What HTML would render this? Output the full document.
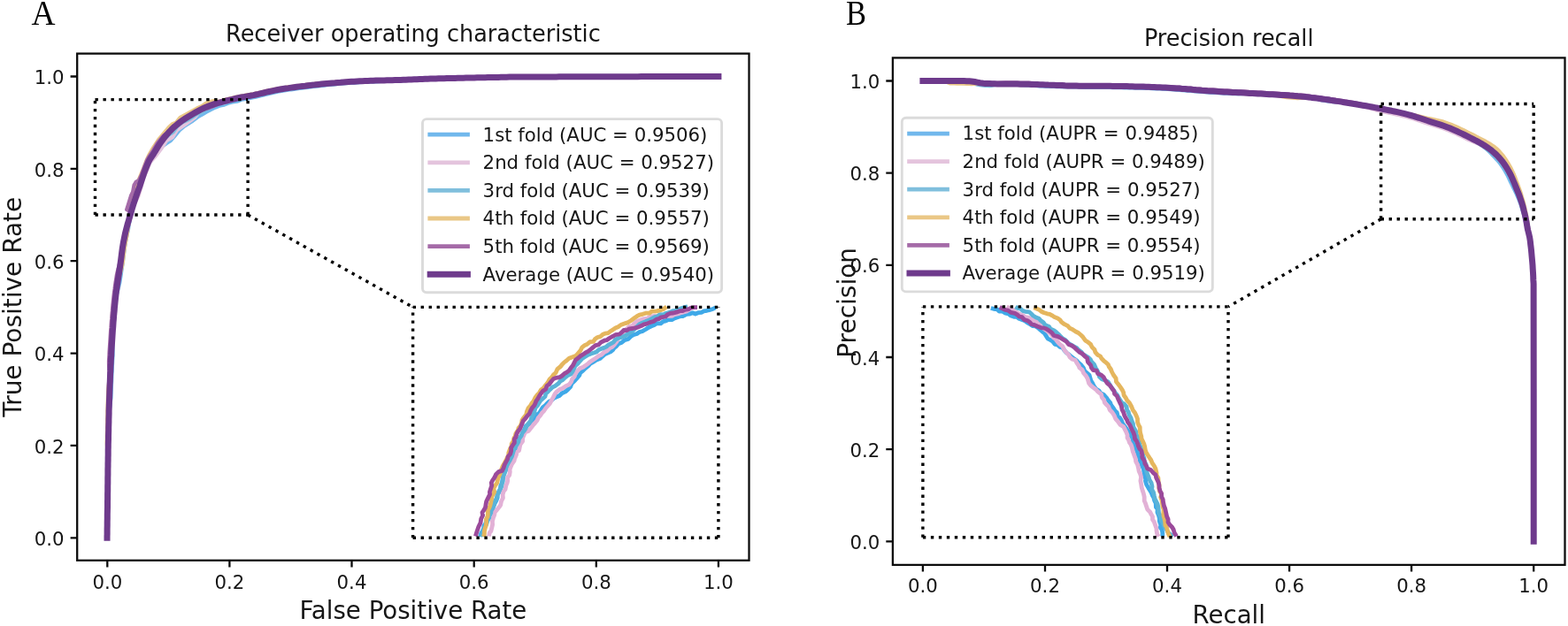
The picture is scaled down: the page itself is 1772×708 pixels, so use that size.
<!DOCTYPE html>
<html lang="en">
<head>
<meta charset="utf-8">
<title>ROC and Precision-Recall curves</title>
<style>
html,body{margin:0;padding:0;background:#fff;}
body{width:1772px;height:708px;overflow:hidden;}
svg{display:block;}
text{white-space:pre;}
</style>
</head>
<body>
<svg width="1772" height="708" viewBox="0 0 1772 708" role="img" aria-label="ROC and precision-recall curves">
<rect x="0" y="0" width="1772" height="708" fill="#fff"/>
<g fill="none" stroke-linejoin="round" stroke-linecap="butt">
<path d="M121.0,608.3 L121.0,607.8 L121.0,606.5 L121.1,604.3 L121.1,601.6 L121.1,598.3 L121.2,594.5 L121.2,590.5 L121.3,586.3 L121.3,582.0 L121.4,577.7 L121.5,573.6 L121.5,569.7 L121.5,567.1 L121.6,564.3 L121.6,561.5 L121.6,558.7 L121.7,555.7 L121.7,552.7 L121.7,549.7 L121.8,546.6 L121.8,543.5 L121.8,540.3 L121.9,537.1 L121.9,534.0 L121.9,530.8 L122.0,527.6 L122.0,524.4 L122.1,521.2 L122.1,518.0 L122.2,514.9 L122.2,511.8 L122.2,508.7 L122.3,505.7 L122.3,502.7 L122.4,499.8 L122.5,496.5 L122.5,493.3 L122.6,490.1 L122.7,486.9 L122.7,483.7 L122.8,480.6 L122.9,477.5 L122.9,474.3 L123.0,471.3 L123.2,468.2 L123.6,465.1 L123.9,462.0 L124.3,459.0 L124.7,456.0 L125.0,452.9 L125.4,449.9 L125.5,446.8 L125.6,443.8 L125.7,440.7 L125.8,437.7 L125.9,434.7 L126.1,431.6 L126.2,428.6 L126.3,425.6 L126.4,422.7 L126.6,419.7 L126.7,416.7 L126.8,413.7 L127.0,410.7 L127.1,407.8 L127.3,404.8 L127.5,401.7 L127.5,398.7 L127.4,395.7 L127.3,392.6 L127.3,389.5 L127.2,386.4 L127.1,383.3 L127.0,380.1 L127.2,376.9 L127.4,373.7 L127.7,370.5 L127.9,367.3 L128.1,364.1 L128.4,360.9 L128.6,357.7 L128.9,354.5 L129.2,351.4 L129.4,348.4 L129.7,345.3 L130.0,342.4 L130.4,339.4 L131.0,336.6 L131.8,333.1 L132.7,329.7 L133.5,326.3 L134.4,323.0 L135.2,319.7 L135.7,316.5 L136.2,313.3 L136.7,310.2 L137.1,307.2 L137.6,304.2 L138.0,301.4 L138.4,298.6 L138.9,295.1 L139.3,291.8 L139.7,288.6 L140.1,285.5 L140.5,282.5 L140.9,279.5 L141.4,276.6 L142.0,273.1 L142.7,269.7 L143.4,266.3 L144.1,263.0 L144.9,259.7 L145.3,256.3 L145.9,253.0 L146.5,249.7 L147.1,246.3 L147.7,243.0 L148.3,239.6 L149.3,236.1 L147.8,233.8 L152.1,224.3 L156.0,214.4 L158.0,205.5 L162.0,196.6 L166.9,185.7 L170.4,178.8 L174.0,176.0 L180.0,168.1 L187.9,162.2 L192.8,159.2 L197.8,153.3 L202.7,147.3 L208.7,142.4 L216.6,137.4 L224.5,131.5 L228.2,129.5 L233.2,126.5 L238.1,124.0 L243.0,121.6 L248.0,119.6 L252.9,118.6 L257.9,116.6 L262.8,115.4 L267.8,114.6 L272.8,112.7 L276.1,112.1 L279.3,111.5 L282.8,110.8 L286.4,110.1 L289.1,109.5 L292.0,108.8 L295.0,108.1 L298.0,107.3 L301.1,106.6 L304.3,105.8 L307.5,105.1 L310.7,104.4 L313.9,103.7 L316.8,103.2 L319.8,102.7 L322.9,102.2 L325.9,101.7 L329.1,101.2 L332.2,100.8 L335.3,100.3 L338.4,99.9 L341.6,99.5 L344.7,99.1 L347.8,98.7 L350.9,98.3 L354.0,97.9 L357.0,97.5 L360.1,97.2 L363.2,96.8 L366.3,96.5 L369.4,96.1 L372.4,95.8 L375.5,95.5 L378.6,95.2 L381.7,94.9 L384.8,94.6 L387.9,94.4 L390.9,94.1 L394.0,93.9 L397.1,93.7 L400.2,93.5 L403.3,93.3 L406.4,93.1 L409.4,92.9 L412.5,92.7 L415.6,92.6 L418.7,92.4 L421.8,92.3 L424.8,92.2 L427.9,92.0 L431.0,91.9 L434.1,91.8 L437.2,91.8 L440.3,91.7 L443.3,91.6 L446.4,91.4 L449.5,91.3 L452.6,91.2 L455.7,91.0 L458.7,90.9 L461.8,90.7 L464.9,90.6 L468.0,90.4 L471.1,90.2 L474.2,90.1 L477.2,89.9 L480.3,89.8 L483.4,89.7 L486.5,89.5 L489.6,89.4 L492.6,89.3 L495.7,89.2 L498.8,89.1 L501.9,88.9 L505.0,88.8 L508.1,88.7 L511.1,88.6 L514.2,88.5 L517.3,88.4 L520.4,88.3 L523.5,88.2 L526.6,88.1 L529.7,88.0 L532.9,88.0 L536.0,87.9 L539.1,87.8 L542.2,87.8 L545.2,87.7 L548.2,87.7 L551.2,87.6 L554.4,87.5 L557.4,87.5 L560.2,87.4 L563.1,87.4 L566.0,87.3 L569.0,87.2 L572.3,87.2 L575.9,87.1 L580.0,87.1 L582.0,87.1 L584.2,87.1 L586.4,87.0 L588.7,87.0 L591.1,87.0 L593.6,87.0 L596.2,87.0 L598.8,87.0 L601.5,86.9 L604.3,86.9 L607.2,86.9 L610.1,86.9 L613.1,86.9 L616.1,86.9 L619.2,86.9 L622.3,86.9 L625.4,86.9 L628.6,86.9 L631.9,86.8 L635.1,86.8 L638.4,86.8 L641.7,86.8 L645.0,86.8 L648.4,86.8 L651.7,86.8 L655.0,86.8 L658.4,86.8 L661.7,86.8 L665.1,86.8 L668.4,86.8 L671.7,86.8 L675.0,86.8 L678.2,86.7 L681.4,86.7 L684.6,86.7 L687.8,86.7 L690.9,86.7 L694.0,86.7 L697.0,86.7 L700.0,86.7 L703.2,86.7 L706.5,86.7 L709.9,86.7 L713.4,86.7 L717.1,86.7 L720.8,86.7 L724.7,86.6 L728.6,86.6 L732.5,86.6 L736.5,86.6 L740.5,86.6 L744.5,86.6 L748.6,86.6 L752.6,86.6 L756.6,86.6 L760.5,86.6 L764.4,86.6 L768.3,86.6 L772.1,86.6 L775.7,86.6 L779.3,86.5 L782.8,86.5 L786.1,86.5 L789.3,86.5 L792.3,86.5 L795.2,86.5 L797.9,86.5 L800.4,86.5 L802.6,86.5 L804.7,86.5 L806.5,86.5 L808.1,86.5 L809.4,86.5 L810.5,86.5 L811.3,86.5 L811.7,86.5 L811.9,86.5" stroke="#71b8ec" stroke-width="4.4"/>
<path d="M121.0,608.3 L121.0,607.8 L121.0,606.5 L121.1,604.3 L121.1,601.6 L121.1,598.3 L121.2,594.5 L121.2,590.5 L121.3,586.3 L121.3,582.0 L121.4,577.7 L121.5,573.6 L121.5,569.7 L121.5,567.1 L121.6,564.3 L121.6,561.5 L121.6,558.7 L121.7,555.7 L121.7,552.7 L121.7,549.7 L121.8,546.6 L121.8,543.5 L121.8,540.3 L121.9,537.1 L121.9,534.0 L121.9,530.8 L122.0,527.6 L122.0,524.4 L122.1,521.2 L122.1,518.0 L122.2,514.9 L122.2,511.8 L122.2,508.7 L122.3,505.7 L122.3,502.7 L122.4,499.8 L122.5,496.5 L122.5,493.3 L122.6,490.1 L122.7,486.9 L122.7,483.7 L122.8,480.6 L122.9,477.5 L122.9,474.3 L123.0,471.3 L123.1,468.2 L123.1,465.1 L123.2,462.0 L123.3,459.0 L123.4,456.0 L123.5,452.9 L123.6,449.9 L123.7,446.8 L123.8,443.8 L123.9,440.7 L124.0,437.7 L124.1,434.7 L124.3,431.6 L124.4,428.6 L124.5,425.6 L124.6,422.7 L124.8,419.7 L124.9,416.7 L125.0,413.7 L125.2,410.7 L125.3,407.8 L125.5,404.8 L125.7,401.7 L125.8,398.7 L126.0,395.7 L126.2,392.6 L126.4,389.5 L126.6,386.4 L126.8,383.3 L127.0,380.1 L127.2,376.9 L127.4,373.7 L127.7,370.5 L127.9,367.3 L128.1,364.1 L128.4,360.9 L128.6,357.7 L128.9,354.5 L129.2,351.4 L129.4,348.4 L129.7,345.3 L130.0,342.4 L130.3,339.4 L130.6,336.6 L131.0,333.1 L131.4,329.7 L131.9,326.3 L132.3,323.0 L132.8,319.7 L133.3,316.5 L133.8,313.3 L134.3,310.2 L134.7,307.2 L135.2,304.2 L135.6,301.4 L136.1,298.6 L136.9,295.1 L137.6,291.8 L138.2,288.6 L138.9,285.5 L139.5,282.5 L140.1,279.5 L140.6,276.6 L141.2,273.1 L141.9,269.7 L142.6,266.3 L143.3,263.0 L144.1,259.7 L144.7,256.3 L145.4,253.0 L146.1,249.7 L146.8,246.3 L147.5,243.0 L148.3,239.6 L149.3,236.1 L150.3,232.7 L152.6,229.2 L156.5,221.3 L159.2,212.4 L162.0,201.5 L166.9,190.6 L169.4,183.7 L174.8,177.8 L175.5,177.0 L182.9,167.1 L187.9,159.2 L194.8,155.3 L199.8,147.3 L206.7,142.4 L214.6,137.0 L220.5,132.5 L227.5,123.6 L233.2,119.6 L237.1,118.1 L242.1,116.6 L247.3,116.6 L252.9,116.5 L255.9,114.8 L259.3,113.9 L262.7,113.0 L266.1,112.2 L269.5,111.4 L272.8,110.8 L276.1,110.2 L279.3,109.6 L282.8,109.0 L286.4,108.3 L289.1,107.7 L292.0,107.1 L295.0,106.3 L298.0,105.6 L301.1,104.9 L304.3,104.1 L307.5,103.4 L310.7,102.7 L313.9,102.1 L316.8,101.6 L319.8,101.1 L322.9,100.6 L325.9,100.2 L329.1,99.7 L332.2,99.3 L335.3,98.9 L338.4,98.5 L341.6,98.1 L344.7,97.7 L347.8,97.3 L350.9,96.9 L354.0,96.6 L357.0,96.2 L360.1,95.9 L363.2,95.5 L366.3,95.2 L369.4,94.9 L372.4,94.6 L375.5,94.3 L378.6,94.1 L381.7,93.8 L384.8,93.6 L387.9,93.3 L390.9,93.1 L394.0,92.9 L397.1,92.7 L400.2,92.5 L403.3,92.3 L406.4,92.2 L409.4,92.0 L412.5,91.8 L415.6,91.7 L418.7,91.6 L421.8,91.5 L424.8,91.4 L427.9,91.3 L431.0,91.2 L434.1,91.1 L437.2,91.0 L440.3,91.0 L443.3,90.9 L446.4,90.8 L449.5,90.7 L452.6,90.6 L455.7,90.5 L458.7,90.3 L461.8,90.2 L464.9,90.1 L468.0,89.9 L471.1,89.8 L474.2,89.7 L477.2,89.5 L480.3,89.4 L483.4,89.3 L486.5,89.2 L489.6,89.1 L492.6,89.0 L495.7,88.9 L498.8,88.8 L501.9,88.7 L505.0,88.6 L508.1,88.5 L511.1,88.5 L514.2,88.4 L517.3,88.3 L520.4,88.2 L523.5,88.2 L526.6,88.1 L529.7,88.0 L532.9,88.0 L536.0,87.9 L539.1,87.8 L542.2,87.8 L545.2,87.7 L548.2,87.7 L551.2,87.6 L554.4,87.5 L557.4,87.5 L560.2,87.4 L563.1,87.4 L566.0,87.3 L569.0,87.2 L572.3,87.2 L575.9,87.1 L580.0,87.1 L582.0,87.1 L584.2,87.1 L586.4,87.0 L588.7,87.0 L591.1,87.0 L593.6,87.0 L596.2,87.0 L598.8,87.0 L601.5,86.9 L604.3,86.9 L607.2,86.9 L610.1,86.9 L613.1,86.9 L616.1,86.9 L619.2,86.9 L622.3,86.9 L625.4,86.9 L628.6,86.9 L631.9,86.8 L635.1,86.8 L638.4,86.8 L641.7,86.8 L645.0,86.8 L648.4,86.8 L651.7,86.8 L655.0,86.8 L658.4,86.8 L661.7,86.8 L665.1,86.8 L668.4,86.8 L671.7,86.8 L675.0,86.8 L678.2,86.7 L681.4,86.7 L684.6,86.7 L687.8,86.7 L690.9,86.7 L694.0,86.7 L697.0,86.7 L700.0,86.7 L703.2,86.7 L706.5,86.7 L709.9,86.7 L713.4,86.7 L717.1,86.7 L720.8,86.7 L724.7,86.6 L728.6,86.6 L732.5,86.6 L736.5,86.6 L740.5,86.6 L744.5,86.6 L748.6,86.6 L752.6,86.6 L756.6,86.6 L760.5,86.6 L764.4,86.6 L768.3,86.6 L772.1,86.6 L775.7,86.6 L779.3,86.5 L782.8,86.5 L786.1,86.5 L789.3,86.5 L792.3,86.5 L795.2,86.5 L797.9,86.5 L800.4,86.5 L802.6,86.5 L804.7,86.5 L806.5,86.5 L808.1,86.5 L809.4,86.5 L810.5,86.5 L811.3,86.5 L811.7,86.5 L811.9,86.5" stroke="#e4c4dd" stroke-width="4.4"/>
<path d="M121.0,608.3 L121.0,607.8 L121.0,606.5 L121.1,604.3 L121.1,601.6 L121.1,598.3 L121.2,594.5 L121.2,590.5 L121.3,586.3 L121.3,582.0 L121.4,577.7 L121.5,573.6 L121.5,569.7 L121.5,567.1 L121.6,564.3 L121.6,561.5 L121.6,558.7 L121.7,555.7 L121.7,552.7 L121.7,549.7 L121.8,546.6 L121.8,543.5 L121.8,540.3 L121.9,537.1 L121.9,534.0 L121.9,530.8 L122.0,527.6 L122.0,524.4 L122.1,521.2 L122.1,518.0 L122.2,514.9 L122.2,511.8 L122.2,508.7 L122.3,505.7 L122.3,502.7 L122.4,499.8 L122.5,496.5 L122.5,493.3 L122.6,490.1 L122.7,486.9 L122.7,483.7 L122.8,480.6 L122.9,477.5 L122.9,474.3 L123.0,471.3 L123.1,468.2 L123.1,465.1 L123.2,462.0 L123.3,459.0 L123.4,456.0 L123.5,452.9 L123.6,449.9 L123.7,446.8 L123.8,443.8 L123.9,440.7 L124.0,437.7 L124.1,434.7 L124.3,431.6 L124.4,428.6 L124.5,425.6 L124.6,422.7 L124.8,419.7 L124.9,416.7 L125.0,413.7 L125.2,410.7 L125.3,407.8 L125.5,404.8 L125.7,401.7 L125.8,398.7 L126.0,395.7 L126.2,392.6 L126.4,389.5 L126.6,386.4 L126.8,383.3 L127.0,380.1 L127.2,376.9 L127.4,373.7 L127.7,370.5 L127.9,367.3 L128.1,364.1 L128.4,360.9 L128.6,357.7 L128.9,354.5 L129.2,351.4 L129.4,348.4 L129.7,345.3 L130.0,342.4 L130.3,339.4 L130.6,336.6 L131.0,333.1 L131.5,329.7 L132.2,326.3 L133.0,323.0 L133.7,319.7 L134.5,316.5 L135.3,313.3 L136.0,310.2 L136.5,307.2 L137.0,304.2 L137.4,301.4 L137.8,298.6 L138.3,295.1 L138.7,291.8 L139.1,288.6 L139.5,285.5 L139.9,282.5 L140.3,279.5 L140.8,276.6 L141.4,273.1 L142.1,269.7 L142.4,266.3 L142.9,263.0 L143.4,259.7 L143.9,256.3 L144.6,253.0 L145.3,249.7 L146.3,246.3 L147.3,243.0 L148.3,239.6 L149.3,236.1 L148.8,232.3 L151.8,224.8 L154.3,217.8 L156.5,213.3 L158.3,205.8 L161.5,197.8 L165.3,189.3 L168.3,182.8 L172.1,177.0 L177.0,167.1 L182.9,159.2 L189.9,153.3 L195.8,149.3 L199.8,143.4 L205.7,138.4 L214.6,134.5 L222.5,129.0 L228.2,126.5 L233.2,122.5 L238.1,119.6 L243.0,117.1 L249.3,115.0 L252.5,116.5 L255.9,115.5 L259.3,114.6 L262.7,113.8 L266.1,113.0 L269.5,112.2 L272.8,111.5 L276.1,110.9 L279.3,110.3 L282.8,109.7 L286.4,109.0 L289.1,108.4 L292.0,107.7 L295.0,107.0 L298.0,106.3 L301.1,105.5 L304.3,104.8 L307.5,104.0 L310.7,103.3 L313.9,102.7 L316.8,102.2 L319.8,101.7 L322.9,101.2 L325.9,100.7 L329.1,100.3 L332.2,99.8 L335.3,99.4 L338.4,99.0 L341.6,98.6 L344.7,98.2 L347.8,97.8 L350.9,97.4 L354.0,97.0 L357.0,96.7 L360.1,96.3 L363.2,96.0 L366.3,95.7 L369.4,95.3 L372.4,95.0 L375.5,94.7 L378.6,94.5 L381.7,94.2 L384.8,93.9 L387.9,93.7 L390.9,93.5 L394.0,93.2 L397.1,93.0 L400.2,92.8 L403.3,92.6 L406.4,92.5 L409.4,92.3 L412.5,92.1 L415.6,92.0 L418.7,91.8 L421.8,91.7 L424.8,91.6 L427.9,91.5 L431.0,91.4 L434.1,91.3 L437.2,91.3 L440.3,91.2 L443.3,91.1 L446.4,91.0 L449.5,90.9 L452.6,90.7 L455.7,90.6 L458.7,90.5 L461.8,90.3 L464.9,90.2 L468.0,90.0 L471.1,89.9 L474.2,89.8 L477.2,89.6 L480.3,89.5 L483.4,89.4 L486.5,89.2 L489.6,89.1 L492.6,89.0 L495.7,88.9 L498.8,88.8 L501.9,88.7 L505.0,88.6 L508.1,88.5 L511.1,88.4 L514.2,88.4 L517.3,88.3 L520.4,88.2 L523.5,88.2 L526.6,88.1 L529.7,88.0 L532.9,88.0 L536.0,87.9 L539.1,87.8 L542.2,87.8 L545.2,87.7 L548.2,87.7 L551.2,87.6 L554.4,87.5 L557.4,87.5 L560.2,87.4 L563.1,87.4 L566.0,87.3 L569.0,87.2 L572.3,87.2 L575.9,87.1 L580.0,87.1 L582.0,87.1 L584.2,87.1 L586.4,87.0 L588.7,87.0 L591.1,87.0 L593.6,87.0 L596.2,87.0 L598.8,87.0 L601.5,86.9 L604.3,86.9 L607.2,86.9 L610.1,86.9 L613.1,86.9 L616.1,86.9 L619.2,86.9 L622.3,86.9 L625.4,86.9 L628.6,86.9 L631.9,86.8 L635.1,86.8 L638.4,86.8 L641.7,86.8 L645.0,86.8 L648.4,86.8 L651.7,86.8 L655.0,86.8 L658.4,86.8 L661.7,86.8 L665.1,86.8 L668.4,86.8 L671.7,86.8 L675.0,86.8 L678.2,86.7 L681.4,86.7 L684.6,86.7 L687.8,86.7 L690.9,86.7 L694.0,86.7 L697.0,86.7 L700.0,86.7 L703.2,86.7 L706.5,86.7 L709.9,86.7 L713.4,86.7 L717.1,86.7 L720.8,86.7 L724.7,86.6 L728.6,86.6 L732.5,86.6 L736.5,86.6 L740.5,86.6 L744.5,86.6 L748.6,86.6 L752.6,86.6 L756.6,86.6 L760.5,86.6 L764.4,86.6 L768.3,86.6 L772.1,86.6 L775.7,86.6 L779.3,86.5 L782.8,86.5 L786.1,86.5 L789.3,86.5 L792.3,86.5 L795.2,86.5 L797.9,86.5 L800.4,86.5 L802.6,86.5 L804.7,86.5 L806.5,86.5 L808.1,86.5 L809.4,86.5 L810.5,86.5 L811.3,86.5 L811.7,86.5 L811.9,86.5" stroke="#80bfdd" stroke-width="4.4"/>
<path d="M121.0,608.3 L121.0,607.8 L121.0,606.5 L121.1,604.3 L121.1,601.6 L121.1,598.3 L121.2,594.5 L121.2,590.5 L121.3,586.3 L121.3,582.0 L121.4,577.7 L121.5,573.6 L121.5,569.7 L121.5,567.1 L121.6,564.3 L121.6,561.5 L121.6,558.7 L121.7,555.7 L121.7,552.7 L121.7,549.7 L121.8,546.6 L121.8,543.5 L121.8,540.3 L121.9,537.1 L121.9,534.0 L121.9,530.8 L122.0,527.6 L122.0,524.4 L122.1,521.2 L121.9,518.0 L121.7,514.9 L121.5,511.8 L121.3,508.7 L121.1,505.7 L121.0,502.7 L120.8,499.8 L120.9,496.5 L120.9,493.3 L121.0,490.1 L121.1,486.9 L121.1,483.7 L121.2,480.6 L121.3,477.5 L121.3,474.3 L121.4,471.3 L121.5,468.2 L121.5,465.1 L121.6,462.0 L121.7,459.0 L121.8,456.0 L121.9,452.9 L122.0,449.9 L122.1,446.8 L122.2,443.8 L122.3,440.7 L122.6,437.7 L123.0,434.7 L123.3,431.6 L123.7,428.6 L124.0,425.6 L124.4,422.7 L124.8,419.7 L124.9,416.7 L125.0,413.7 L125.2,410.7 L125.3,407.8 L125.5,404.8 L125.7,401.7 L125.8,398.7 L126.0,395.7 L126.2,392.6 L126.4,389.5 L126.6,386.4 L126.8,383.3 L127.0,380.1 L127.2,376.9 L127.4,373.7 L127.7,370.5 L127.9,367.3 L128.1,364.1 L128.4,360.9 L128.6,357.7 L128.9,354.5 L129.2,351.4 L129.4,348.4 L129.7,345.3 L130.0,342.4 L130.3,339.4 L130.6,336.6 L131.0,333.1 L131.4,329.7 L131.9,326.3 L132.3,323.0 L132.9,319.7 L133.7,316.5 L134.6,313.3 L135.4,310.2 L136.3,307.2 L137.1,304.2 L137.8,301.4 L138.4,298.6 L138.9,295.1 L139.3,291.8 L139.7,288.6 L140.1,285.5 L140.5,282.5 L140.9,279.5 L141.4,276.6 L142.0,273.1 L142.7,269.7 L143.4,266.3 L143.9,263.0 L144.3,259.7 L144.7,256.3 L145.3,253.0 L145.9,249.7 L146.5,246.3 L147.3,243.0 L148.3,239.6 L149.3,236.1 L150.3,232.7 L151.4,229.2 L149.6,225.3 L153.1,212.4 L155.5,206.5 L158.3,199.8 L162.3,190.3 L166.3,179.8 L169.1,174.0 L173.1,167.1 L179.0,158.2 L185.9,149.8 L190.9,143.9 L194.8,140.4 L198.8,138.9 L203.7,133.0 L212.6,128.1 L222.5,122.6 L228.2,120.1 L233.2,116.6 L238.1,114.9 L243.0,113.9 L245.7,115.1 L249.1,114.3 L252.5,113.4 L255.9,112.5 L259.3,111.6 L262.7,110.8 L266.1,110.0 L269.5,109.3 L272.8,108.6 L276.1,108.1 L279.3,107.5 L282.8,106.9 L286.4,106.3 L289.1,105.7 L292.0,105.1 L295.0,104.4 L298.0,103.7 L301.1,103.0 L304.3,102.3 L307.5,101.6 L310.7,100.9 L313.9,100.3 L316.8,99.8 L319.8,99.4 L322.9,98.9 L325.9,98.5 L329.1,98.1 L332.2,97.7 L335.3,97.3 L338.4,96.9 L341.6,96.6 L344.7,96.2 L347.8,95.8 L350.9,95.5 L354.0,95.2 L357.0,94.8 L360.1,94.5 L363.2,94.2 L366.3,93.9 L369.4,93.7 L372.4,93.4 L375.5,93.1 L378.6,92.9 L381.7,92.7 L384.8,92.4 L387.9,92.2 L390.9,92.0 L394.0,91.9 L397.1,91.7 L400.2,91.5 L403.3,91.4 L406.4,91.2 L409.4,91.1 L412.5,91.0 L415.6,90.9 L418.7,90.8 L421.8,90.7 L424.8,90.6 L427.9,90.5 L431.0,90.5 L434.1,90.4 L437.2,90.4 L440.3,90.4 L443.3,90.3 L446.4,90.2 L449.5,90.2 L452.6,90.1 L455.7,90.0 L458.7,89.9 L461.8,89.8 L464.9,89.7 L468.0,89.6 L471.1,89.5 L474.2,89.4 L477.2,89.3 L480.3,89.2 L483.4,89.1 L486.5,89.0 L489.6,88.9 L492.6,88.9 L495.7,88.8 L498.8,88.7 L501.9,88.7 L505.0,88.6 L508.1,88.5 L511.1,88.4 L514.2,88.4 L517.3,88.3 L520.4,88.2 L523.5,88.2 L526.6,88.1 L529.7,88.0 L532.9,88.0 L536.0,87.9 L539.1,87.8 L542.2,87.8 L545.2,87.7 L548.2,87.7 L551.2,87.6 L554.4,87.5 L557.4,87.5 L560.2,87.4 L563.1,87.4 L566.0,87.3 L569.0,87.2 L572.3,87.2 L575.9,87.1 L580.0,87.1 L582.0,87.1 L584.2,87.1 L586.4,87.0 L588.7,87.0 L591.1,87.0 L593.6,87.0 L596.2,87.0 L598.8,87.0 L601.5,86.9 L604.3,86.9 L607.2,86.9 L610.1,86.9 L613.1,86.9 L616.1,86.9 L619.2,86.9 L622.3,86.9 L625.4,86.9 L628.6,86.9 L631.9,86.8 L635.1,86.8 L638.4,86.8 L641.7,86.8 L645.0,86.8 L648.4,86.8 L651.7,86.8 L655.0,86.8 L658.4,86.8 L661.7,86.8 L665.1,86.8 L668.4,86.8 L671.7,86.8 L675.0,86.8 L678.2,86.7 L681.4,86.7 L684.6,86.7 L687.8,86.7 L690.9,86.7 L694.0,86.7 L697.0,86.7 L700.0,86.7 L703.2,86.7 L706.5,86.7 L709.9,86.7 L713.4,86.7 L717.1,86.7 L720.8,86.7 L724.7,86.6 L728.6,86.6 L732.5,86.6 L736.5,86.6 L740.5,86.6 L744.5,86.6 L748.6,86.6 L752.6,86.6 L756.6,86.6 L760.5,86.6 L764.4,86.6 L768.3,86.6 L772.1,86.6 L775.7,86.6 L779.3,86.5 L782.8,86.5 L786.1,86.5 L789.3,86.5 L792.3,86.5 L795.2,86.5 L797.9,86.5 L800.4,86.5 L802.6,86.5 L804.7,86.5 L806.5,86.5 L808.1,86.5 L809.4,86.5 L810.5,86.5 L811.3,86.5 L811.7,86.5 L811.9,86.5" stroke="#eac786" stroke-width="4.4"/>
<path d="M121.0,608.3 L121.0,607.8 L121.0,606.5 L121.1,604.3 L121.1,601.6 L121.1,598.3 L121.2,594.5 L121.2,590.5 L121.3,586.3 L121.3,582.0 L121.4,577.7 L121.5,573.6 L121.5,569.7 L121.5,567.1 L121.6,564.3 L121.6,561.5 L121.6,558.7 L121.7,555.7 L121.7,552.7 L121.7,549.7 L121.8,546.6 L121.8,543.5 L121.8,540.3 L121.9,537.1 L121.9,534.0 L121.9,530.8 L122.0,527.6 L122.0,524.4 L122.1,521.2 L122.1,518.0 L122.2,514.9 L122.2,511.8 L122.2,508.7 L122.3,505.7 L122.3,502.7 L122.4,499.8 L122.5,496.5 L122.5,493.3 L122.6,490.1 L122.7,486.9 L122.7,483.7 L122.8,480.6 L122.9,477.5 L122.9,474.3 L123.0,471.3 L123.1,468.2 L123.1,465.1 L123.2,462.0 L123.3,459.0 L123.4,456.0 L123.5,452.9 L123.6,449.9 L123.7,446.8 L123.8,443.8 L123.9,440.7 L124.0,437.7 L124.1,434.7 L124.3,431.6 L124.2,428.6 L124.0,425.6 L123.8,422.7 L123.6,419.7 L123.4,416.7 L123.2,413.7 L123.1,410.7 L123.1,407.8 L123.3,404.8 L123.5,401.7 L123.6,398.7 L123.8,395.7 L124.0,392.6 L124.2,389.5 L124.4,386.4 L124.6,383.3 L124.8,380.1 L125.0,376.9 L125.2,373.7 L125.5,370.5 L125.7,367.3 L125.9,364.1 L126.2,360.9 L126.4,357.7 L126.7,354.5 L127.0,351.4 L127.2,348.4 L127.5,345.3 L127.8,342.4 L128.1,339.4 L128.4,336.6 L128.8,333.1 L129.2,329.7 L129.7,326.3 L130.1,323.0 L130.6,319.7 L131.1,316.5 L131.6,313.3 L132.1,310.2 L132.8,307.2 L133.6,304.2 L134.4,301.4 L135.1,298.6 L135.9,295.1 L136.7,291.8 L137.3,288.6 L137.7,285.5 L138.1,282.5 L138.5,279.5 L139.0,276.6 L139.6,273.1 L140.3,269.7 L141.0,266.3 L141.7,263.0 L142.5,259.7 L143.4,256.3 L144.3,253.0 L145.3,249.7 L146.3,246.3 L147.3,243.0 L148.3,239.6 L143.2,237.1 L145.1,231.2 L148.1,221.3 L150.1,217.3 L151.6,209.4 L153.6,206.0 L157.0,204.0 L160.0,197.6 L162.9,189.6 L165.9,181.7 L168.1,177.8 L173.1,170.1 L178.0,161.7 L184.9,153.3 L194.8,147.3 L199.8,140.4 L208.7,134.0 L217.6,129.0 L223.3,126.8 L225.7,124.5 L230.7,123.5 L235.6,122.1 L240.6,120.1 L245.5,118.1 L250.5,115.6 L255.4,114.4 L260.3,112.9 L262.7,111.9 L266.1,111.1 L269.5,110.3 L272.8,109.7 L276.1,109.1 L279.3,108.5 L282.8,107.9 L286.4,107.2 L289.1,106.7 L292.0,106.0 L295.0,105.3 L298.0,104.6 L301.1,103.9 L304.3,103.2 L307.5,102.5 L310.7,101.8 L313.9,101.2 L316.8,100.7 L319.8,100.2 L322.9,99.7 L325.9,99.3 L329.1,98.9 L332.2,98.4 L335.3,98.0 L338.4,97.7 L341.6,97.3 L344.7,96.9 L347.8,96.5 L350.9,96.2 L354.0,95.8 L357.0,95.5 L360.1,95.2 L363.2,94.8 L366.3,94.5 L369.4,94.2 L372.4,94.0 L375.5,93.7 L378.6,93.4 L381.7,93.2 L384.8,93.0 L387.9,92.7 L390.9,92.5 L394.0,92.3 L397.1,92.1 L400.2,92.0 L403.3,91.8 L406.4,91.7 L409.4,91.5 L412.5,91.4 L415.6,91.2 L418.7,91.1 L421.8,91.0 L424.8,90.9 L427.9,90.9 L431.0,90.8 L434.1,90.7 L437.2,90.7 L440.3,90.6 L443.3,90.6 L446.4,90.5 L449.5,90.4 L452.6,90.3 L455.7,90.2 L458.7,90.1 L461.8,89.9 L464.9,89.8 L468.0,89.7 L471.1,89.6 L474.2,89.5 L477.2,89.4 L480.3,89.2 L483.4,89.1 L486.5,89.1 L489.6,89.0 L492.6,88.9 L495.7,88.8 L498.8,88.7 L501.9,88.6 L505.0,88.6 L508.1,88.5 L511.1,88.4 L514.2,88.4 L517.3,88.3 L520.4,88.2 L523.5,88.2 L526.6,88.1 L529.7,88.0 L532.9,88.0 L536.0,87.9 L539.1,87.8 L542.2,87.8 L545.2,87.7 L548.2,87.7 L551.2,87.6 L554.4,87.5 L557.4,87.5 L560.2,87.4 L563.1,87.4 L566.0,87.3 L569.0,87.2 L572.3,87.2 L575.9,87.1 L580.0,87.1 L582.0,87.1 L584.2,87.1 L586.4,87.0 L588.7,87.0 L591.1,87.0 L593.6,87.0 L596.2,87.0 L598.8,87.0 L601.5,86.9 L604.3,86.9 L607.2,86.9 L610.1,86.9 L613.1,86.9 L616.1,86.9 L619.2,86.9 L622.3,86.9 L625.4,86.9 L628.6,86.9 L631.9,86.8 L635.1,86.8 L638.4,86.8 L641.7,86.8 L645.0,86.8 L648.4,86.8 L651.7,86.8 L655.0,86.8 L658.4,86.8 L661.7,86.8 L665.1,86.8 L668.4,86.8 L671.7,86.8 L675.0,86.8 L678.2,86.7 L681.4,86.7 L684.6,86.7 L687.8,86.7 L690.9,86.7 L694.0,86.7 L697.0,86.7 L700.0,86.7 L703.2,86.7 L706.5,86.7 L709.9,86.7 L713.4,86.7 L717.1,86.7 L720.8,86.7 L724.7,86.6 L728.6,86.6 L732.5,86.6 L736.5,86.6 L740.5,86.6 L744.5,86.6 L748.6,86.6 L752.6,86.6 L756.6,86.6 L760.5,86.6 L764.4,86.6 L768.3,86.6 L772.1,86.6 L775.7,86.6 L779.3,86.5 L782.8,86.5 L786.1,86.5 L789.3,86.5 L792.3,86.5 L795.2,86.5 L797.9,86.5 L800.4,86.5 L802.6,86.5 L804.7,86.5 L806.5,86.5 L808.1,86.5 L809.4,86.5 L810.5,86.5 L811.3,86.5 L811.7,86.5 L811.9,86.5" stroke="#a56ba8" stroke-width="4.4"/>
<path d="M121.0,608.3 L121.0,607.8 L121.0,606.5 L121.1,604.3 L121.1,601.6 L121.1,598.3 L121.2,594.5 L121.2,590.5 L121.3,586.3 L121.3,582.0 L121.4,577.7 L121.5,573.6 L121.5,569.7 L121.5,567.1 L121.6,564.3 L121.6,561.5 L121.6,558.7 L121.7,555.7 L121.7,552.7 L121.7,549.7 L121.8,546.6 L121.8,543.5 L121.8,540.3 L121.9,537.1 L121.9,534.0 L121.9,530.8 L122.0,527.6 L122.0,524.4 L122.1,521.2 L122.1,518.0 L122.2,514.9 L122.2,511.8 L122.2,508.7 L122.3,505.7 L122.3,502.7 L122.4,499.8 L122.5,496.5 L122.5,493.3 L122.6,490.1 L122.7,486.9 L122.7,483.7 L122.8,480.6 L122.9,477.5 L122.9,474.3 L123.0,471.3 L123.1,468.2 L123.1,465.1 L123.2,462.0 L123.3,459.0 L123.4,456.0 L123.5,452.9 L123.6,449.9 L123.7,446.8 L123.8,443.8 L123.9,440.7 L124.0,437.7 L124.1,434.7 L124.3,431.6 L124.4,428.6 L124.5,425.6 L124.6,422.7 L124.8,419.7 L124.9,416.7 L125.0,413.7 L125.2,410.7 L125.3,407.8 L125.5,404.8 L125.7,401.7 L125.8,398.7 L126.0,395.7 L126.2,392.6 L126.4,389.5 L126.6,386.4 L126.8,383.3 L127.0,380.1 L127.2,376.9 L127.4,373.7 L127.7,370.5 L127.9,367.3 L128.1,364.1 L128.4,360.9 L128.6,357.7 L128.9,354.5 L129.2,351.4 L129.4,348.4 L129.7,345.3 L130.0,342.4 L130.3,339.4 L130.6,336.6 L131.0,333.1 L131.4,329.7 L131.9,326.3 L132.3,323.0 L132.8,319.7 L133.3,316.5 L133.8,313.3 L134.3,310.2 L134.7,307.2 L135.2,304.2 L135.6,301.4 L136.0,298.6 L136.5,295.1 L136.9,291.8 L137.3,288.6 L137.7,285.5 L138.1,282.5 L138.5,279.5 L139.0,276.6 L139.6,273.1 L140.3,269.7 L141.0,266.3 L141.7,263.0 L142.5,259.7 L143.4,256.3 L144.3,253.0 L145.3,249.7 L146.3,246.3 L147.3,243.0 L148.3,239.6 L149.3,236.1 L150.3,232.7 L151.4,229.2 L152.5,225.8 L153.5,222.9 L154.5,220.1 L155.5,217.2 L156.5,214.4 L157.5,211.6 L158.5,208.8 L159.5,205.7 L160.5,202.6 L161.5,199.6 L162.5,196.6 L163.6,193.6 L165.0,190.0 L166.5,186.3 L168.0,182.9 L169.5,180.0 L172.9,175.1 L174.3,172.8 L176.0,170.1 L177.7,167.2 L179.5,164.3 L181.4,161.5 L183.3,158.9 L185.3,156.2 L187.3,153.6 L189.4,151.2 L191.5,148.8 L193.9,146.3 L196.3,144.0 L198.9,141.8 L201.7,139.5 L204.2,137.6 L206.9,135.7 L209.8,133.8 L212.7,132.0 L215.7,130.2 L218.6,128.5 L221.4,126.9 L224.2,125.4 L227.0,123.9 L229.9,122.5 L232.7,121.2 L235.6,120.0 L238.9,118.8 L242.3,117.7 L245.7,116.7 L249.1,115.8 L252.5,114.9 L255.9,114.0 L259.3,113.1 L262.7,112.3 L266.1,111.5 L269.5,110.7 L272.8,110.0 L276.1,109.5 L279.3,108.9 L282.8,108.3 L286.4,107.6 L289.1,107.0 L292.0,106.4 L295.0,105.7 L298.0,105.0 L301.1,104.2 L304.3,103.5 L307.5,102.8 L310.7,102.1 L313.9,101.5 L316.8,101.0 L319.8,100.5 L322.9,100.0 L325.9,99.6 L329.1,99.1 L332.2,98.7 L335.3,98.3 L338.4,97.9 L341.6,97.5 L344.7,97.2 L347.8,96.8 L350.9,96.4 L354.0,96.1 L357.0,95.7 L360.1,95.4 L363.2,95.1 L366.3,94.8 L369.4,94.5 L372.4,94.2 L375.5,93.9 L378.6,93.7 L381.7,93.4 L384.8,93.2 L387.9,92.9 L390.9,92.7 L394.0,92.5 L397.1,92.3 L400.2,92.2 L403.3,92.0 L406.4,91.8 L409.4,91.7 L412.5,91.5 L415.6,91.4 L418.7,91.3 L421.8,91.2 L424.8,91.1 L427.9,91.0 L431.0,90.9 L434.1,90.9 L437.2,90.8 L440.3,90.7 L443.3,90.7 L446.4,90.6 L449.5,90.5 L452.6,90.4 L455.7,90.3 L458.7,90.2 L461.8,90.0 L464.9,89.9 L468.0,89.8 L471.1,89.7 L474.2,89.5 L477.2,89.4 L480.3,89.3 L483.4,89.2 L486.5,89.1 L489.6,89.0 L492.6,88.9 L495.7,88.8 L498.8,88.8 L501.9,88.7 L505.0,88.6 L508.1,88.5 L511.1,88.4 L514.2,88.4 L517.3,88.3 L520.4,88.2 L523.5,88.2 L526.6,88.1 L529.7,88.0 L532.9,88.0 L536.0,87.9 L539.1,87.8 L542.2,87.8 L545.2,87.7 L548.2,87.7 L551.2,87.6 L554.4,87.5 L557.4,87.5 L560.2,87.4 L563.1,87.4 L566.0,87.3 L569.0,87.2 L572.3,87.2 L575.9,87.1 L580.0,87.1 L582.0,87.1 L584.2,87.1 L586.4,87.0 L588.7,87.0 L591.1,87.0 L593.6,87.0 L596.2,87.0 L598.8,87.0 L601.5,86.9 L604.3,86.9 L607.2,86.9 L610.1,86.9 L613.1,86.9 L616.1,86.9 L619.2,86.9 L622.3,86.9 L625.4,86.9 L628.6,86.9 L631.9,86.8 L635.1,86.8 L638.4,86.8 L641.7,86.8 L645.0,86.8 L648.4,86.8 L651.7,86.8 L655.0,86.8 L658.4,86.8 L661.7,86.8 L665.1,86.8 L668.4,86.8 L671.7,86.8 L675.0,86.8 L678.2,86.7 L681.4,86.7 L684.6,86.7 L687.8,86.7 L690.9,86.7 L694.0,86.7 L697.0,86.7 L700.0,86.7 L703.2,86.7 L706.5,86.7 L709.9,86.7 L713.4,86.7 L717.1,86.7 L720.8,86.7 L724.7,86.6 L728.6,86.6 L732.5,86.6 L736.5,86.6 L740.5,86.6 L744.5,86.6 L748.6,86.6 L752.6,86.6 L756.6,86.6 L760.5,86.6 L764.4,86.6 L768.3,86.6 L772.1,86.6 L775.7,86.6 L779.3,86.5 L782.8,86.5 L786.1,86.5 L789.3,86.5 L792.3,86.5 L795.2,86.5 L797.9,86.5 L800.4,86.5 L802.6,86.5 L804.7,86.5 L806.5,86.5 L808.1,86.5 L809.4,86.5 L810.5,86.5 L811.3,86.5 L811.7,86.5 L811.9,86.5" stroke="#6e3a8c" stroke-width="7" stroke-linecap="square"/>
<path d="M1042.9,91.5 L1043.3,91.5 L1044.4,91.5 L1046.1,91.5 L1048.4,91.4 L1051.2,91.4 L1054.4,91.4 L1058.0,91.4 L1061.8,91.4 L1065.8,91.4 L1069.9,91.7 L1074.1,92.5 L1078.2,93.3 L1082.1,93.7 L1085.9,93.7 L1089.5,93.8 L1092.6,93.9 L1095.4,94.0 L1097.6,94.2 L1101.3,94.7 L1104.2,95.2 L1107.2,95.9 L1111.2,95.8 L1113.4,95.6 L1115.8,95.3 L1118.3,94.9 L1121.0,94.7 L1123.9,94.8 L1126.9,94.9 L1129.9,94.9 L1133.1,95.0 L1136.3,95.0 L1139.6,95.1 L1143.0,95.1 L1146.3,95.1 L1149.7,95.1 L1153.0,95.4 L1156.2,95.6 L1159.4,95.9 L1162.6,96.1 L1165.6,96.4 L1168.8,96.7 L1172.0,97.0 L1175.2,97.3 L1178.4,97.4 L1181.5,97.5 L1184.7,97.7 L1187.9,97.8 L1191.0,97.9 L1194.2,98.0 L1197.4,98.1 L1200.5,98.2 L1203.7,98.4 L1206.8,98.5 L1210.0,98.5 L1213.2,98.6 L1216.4,98.7 L1219.6,98.8 L1222.7,98.8 L1225.9,98.8 L1229.1,98.9 L1232.3,98.9 L1235.4,98.9 L1238.6,98.9 L1241.8,98.9 L1245.0,98.9 L1248.1,98.9 L1251.3,98.9 L1254.5,98.9 L1257.7,99.0 L1260.9,99.0 L1264.1,99.0 L1267.3,99.1 L1270.3,99.2 L1273.4,99.2 L1276.5,99.3 L1279.6,99.4 L1282.7,99.5 L1285.8,99.5 L1288.9,99.6 L1292.1,99.7 L1295.2,99.8 L1298.3,99.9 L1301.4,100.1 L1304.5,100.2 L1307.6,100.3 L1310.7,100.4 L1313.8,100.6 L1316.8,100.7 L1319.9,100.9 L1323.1,101.1 L1326.3,101.3 L1329.5,101.5 L1332.6,101.7 L1335.8,102.0 L1339.0,102.2 L1342.2,102.5 L1345.3,102.7 L1348.5,103.0 L1351.7,103.3 L1354.8,103.5 L1358.0,103.8 L1361.2,104.0 L1364.3,104.3 L1367.5,104.5 L1370.7,104.7 L1373.9,104.9 L1377.1,105.1 L1380.2,105.3 L1383.4,105.5 L1386.6,105.6 L1389.8,105.8 L1393.0,106.0 L1396.2,106.0 L1399.4,106.0 L1402.6,106.0 L1405.7,105.9 L1408.9,105.9 L1412.1,105.9 L1415.3,105.8 L1418.5,105.8 L1421.7,105.9 L1424.9,106.1 L1428.1,106.3 L1431.4,106.5 L1434.6,106.7 L1437.9,106.8 L1441.2,107.0 L1444.5,107.2 L1447.8,107.4 L1451.0,107.6 L1454.2,107.8 L1457.4,108.1 L1460.5,108.3 L1463.6,108.5 L1466.6,108.8 L1469.6,109.0 L1472.5,109.3 L1475.8,109.6 L1479.1,110.0 L1482.2,110.6 L1485.3,111.2 L1488.3,111.9 L1491.2,112.6 L1494.2,113.3 L1497.1,113.8 L1500.1,114.2 L1503.1,114.6 L1506.2,115.0 L1509.4,115.1 L1512.6,115.3 L1515.8,115.5 L1519.1,115.7 L1522.3,116.2 L1525.5,116.7 L1528.6,117.2 L1531.7,117.7 L1534.7,118.2 L1537.5,118.7 L1540.3,119.2 L1544.0,119.8 L1547.3,120.4 L1550.6,121.0 L1553.8,121.6 L1557.1,122.2 L1560.7,122.9 L1563.5,123.5 L1566.5,124.1 L1569.6,124.7 L1572.7,125.3 L1575.9,126.0 L1579.1,126.7 L1582.3,127.4 L1585.4,128.1 L1588.4,128.9 L1591.2,129.6 L1594.5,130.5 L1597.6,131.4 L1600.6,132.4 L1603.6,133.3 L1606.6,134.3 L1609.6,135.3 L1612.6,136.3 L1615.8,137.3 L1619.0,138.3 L1622.3,139.3 L1625.5,140.3 L1628.8,141.4 L1632.0,142.5 L1635.2,143.7 L1638.1,144.8 L1640.9,146.0 L1643.7,147.2 L1646.6,148.5 L1649.4,149.8 L1652.2,151.1 L1655.0,152.5 L1657.8,153.9 L1660.7,155.4 L1663.6,156.8 L1666.6,158.4 L1669.6,159.9 L1672.3,161.9 L1674.8,163.9 L1677.2,165.9 L1679.4,167.9 L1682.0,170.4 L1684.4,172.8 L1686.6,175.2 L1688.8,177.5 L1691.1,179.9 L1693.1,182.1 L1695.0,184.5 L1696.8,187.0 L1698.6,189.6 L1700.3,192.2 L1701.8,194.9 L1703.3,197.6 L1704.7,200.4 L1706.0,203.3 L1707.4,206.2 L1708.8,209.1 L1710.2,212.0 L1711.6,214.9 L1713.0,217.7 L1714.3,220.6 L1715.6,223.5 L1716.8,226.4 L1717.9,229.3 L1719.0,232.3 L1719.9,235.3 L1720.8,238.3 L1721.7,241.3 L1722.5,244.3 L1723.2,247.1 L1724.0,250.5 L1724.7,253.9 L1725.4,257.1 L1726.0,260.1 L1727.2,264.0 L1728.4,268.2 L1728.8,270.6 L1729.3,273.4 L1729.7,276.4 L1730.1,279.7 L1730.5,283.1 L1730.8,286.5 L1731.1,290.0 L1731.4,293.3 L1731.7,296.5 L1732.0,300.1 L1732.2,304.1 L1732.5,308.4 L1732.7,312.5 L1732.8,316.2 L1733.0,319.2 L1733.1,321.2 L1733.1,321.9 L1733.1,326.0 L1733.1,330.0 L1733.1,334.1 L1733.1,338.2 L1733.1,342.3 L1733.1,346.3 L1733.1,350.4 L1733.1,354.5 L1733.1,358.6 L1733.1,362.6 L1733.1,366.7 L1733.1,370.8 L1733.1,374.8 L1733.1,378.9 L1733.2,383.0 L1733.2,387.1 L1733.2,391.1 L1733.2,395.2 L1733.2,399.3 L1733.2,403.3 L1733.2,407.4 L1733.2,411.5 L1733.2,415.6 L1733.2,419.6 L1733.2,423.7 L1733.2,427.8 L1733.2,431.9 L1733.2,435.9 L1733.2,440.0 L1733.2,444.0 L1733.2,448.0 L1733.2,452.0 L1733.2,456.0 L1733.2,460.0 L1733.2,464.0 L1733.2,468.0 L1733.2,472.1 L1733.2,476.1 L1733.2,480.1 L1733.2,484.1 L1733.2,488.1 L1733.2,492.1 L1733.2,496.1 L1733.2,500.1 L1733.2,504.1 L1733.2,508.1 L1733.2,512.1 L1733.2,516.1 L1733.2,520.1 L1733.2,524.1 L1733.2,528.2 L1733.2,532.2 L1733.2,536.2 L1733.2,540.2 L1733.2,544.2 L1733.2,548.2 L1733.2,552.2 L1733.2,556.2 L1733.2,560.2 L1733.2,564.2 L1733.2,568.2 L1733.2,572.2 L1733.2,576.2 L1733.2,580.2 L1733.2,584.3 L1733.2,588.3 L1733.2,592.3 L1733.2,596.3 L1733.2,600.3 L1733.2,604.3 L1733.2,608.3 L1733.2,612.3" stroke="#71b8ec" stroke-width="4.4"/>
<path d="M1042.9,91.5 L1043.3,91.5 L1044.4,91.5 L1046.1,91.5 L1048.4,91.4 L1051.2,91.4 L1054.4,91.4 L1058.0,91.4 L1061.8,91.4 L1065.8,91.4 L1069.9,91.4 L1074.1,91.4 L1078.2,91.4 L1082.2,91.5 L1086.0,91.5 L1089.5,91.6 L1092.7,91.7 L1095.5,91.8 L1097.8,92.0 L1101.7,92.3 L1104.7,92.6 L1107.7,92.9 L1111.5,93.1 L1113.6,93.0 L1115.9,93.0 L1118.4,93.1 L1121.1,93.2 L1123.9,93.3 L1126.9,93.4 L1130.0,93.4 L1133.1,93.5 L1136.4,93.5 L1139.7,93.6 L1143.0,93.6 L1146.3,93.7 L1149.7,94.1 L1153.0,94.5 L1156.3,94.8 L1159.5,95.2 L1162.6,95.3 L1165.6,95.4 L1168.8,95.5 L1172.0,95.6 L1175.2,95.7 L1178.4,95.8 L1181.6,95.9 L1184.8,96.1 L1187.9,96.2 L1191.1,96.4 L1194.2,97.0 L1197.4,97.5 L1200.5,98.1 L1203.7,98.4 L1206.8,98.5 L1210.0,98.5 L1213.2,98.6 L1216.4,98.7 L1219.6,98.5 L1222.7,98.2 L1225.9,97.8 L1229.1,97.4 L1232.3,97.3 L1235.4,97.3 L1238.6,97.3 L1241.8,97.3 L1245.0,97.3 L1248.1,97.3 L1251.3,97.3 L1254.5,97.3 L1257.7,97.4 L1260.9,97.4 L1264.1,97.4 L1267.3,97.5 L1270.4,97.6 L1273.5,97.6 L1276.6,97.7 L1279.7,97.8 L1282.8,97.9 L1285.9,97.9 L1289.0,98.0 L1292.1,98.1 L1295.2,98.2 L1298.3,98.3 L1301.4,98.5 L1304.5,98.6 L1307.7,98.7 L1310.7,98.8 L1313.8,99.0 L1316.9,99.1 L1320.0,99.3 L1323.2,99.5 L1326.4,99.7 L1329.6,99.9 L1332.8,100.0 L1336.0,100.0 L1339.2,100.1 L1342.3,100.2 L1345.5,100.3 L1348.7,100.4 L1351.9,100.4 L1355.1,100.5 L1358.2,100.8 L1361.4,101.0 L1364.6,101.3 L1367.7,101.5 L1370.9,101.7 L1374.1,101.9 L1377.2,102.1 L1380.4,102.3 L1383.6,102.5 L1386.8,102.6 L1390.0,102.8 L1393.1,103.0 L1396.3,103.1 L1399.5,103.3 L1402.7,103.5 L1405.9,103.6 L1409.1,103.8 L1412.2,104.0 L1415.4,104.1 L1418.6,104.3 L1421.8,104.5 L1425.0,104.7 L1428.2,104.9 L1431.5,105.1 L1434.7,105.3 L1438.0,105.4 L1441.3,105.6 L1444.6,105.8 L1447.8,106.0 L1451.1,106.2 L1454.3,106.4 L1457.5,106.7 L1460.6,106.9 L1463.7,107.1 L1466.8,107.4 L1469.7,107.6 L1472.6,107.9 L1476.0,108.3 L1479.2,108.8 L1482.4,109.4 L1485.4,109.9 L1488.5,110.5 L1491.5,111.1 L1494.4,111.6 L1497.4,112.2 L1500.3,112.8 L1503.3,113.3 L1506.4,113.7 L1509.5,114.2 L1512.7,114.6 L1515.9,115.1 L1519.1,115.7 L1522.3,116.2 L1525.5,116.7 L1528.6,117.2 L1531.7,117.9 L1534.6,118.7 L1537.4,119.4 L1540.1,120.2 L1543.7,121.2 L1547.0,122.1 L1550.2,122.9 L1553.4,123.8 L1556.6,124.8 L1560.1,125.7 L1563.0,126.3 L1565.9,126.9 L1569.0,127.5 L1572.1,128.2 L1575.3,128.9 L1578.5,129.5 L1581.6,130.2 L1584.7,131.0 L1587.6,131.7 L1590.4,132.4 L1593.7,133.3 L1596.8,134.2 L1599.7,135.1 L1602.7,136.1 L1605.7,137.1 L1608.6,138.1 L1611.7,139.1 L1614.9,140.1 L1618.2,141.1 L1621.4,142.1 L1624.6,143.1 L1627.8,144.1 L1631.0,145.2 L1634.2,146.4 L1637.0,147.5 L1639.8,148.7 L1642.6,149.9 L1645.4,151.1 L1648.1,152.4 L1650.9,153.8 L1653.7,155.1 L1656.5,156.5 L1659.4,157.9 L1662.5,159.1 L1665.6,160.4 L1668.6,161.7 L1671.6,163.0 L1674.5,164.4 L1677.3,165.7 L1679.9,167.2 L1683.0,169.0 L1685.9,170.9 L1688.6,172.9 L1691.2,175.1 L1693.6,177.6 L1695.7,180.0 L1697.7,182.4 L1699.6,185.0 L1701.4,187.7 L1703.1,190.4 L1704.8,193.2 L1706.3,196.0 L1707.8,198.9 L1709.1,201.9 L1710.4,204.9 L1711.7,207.9 L1712.9,210.9 L1714.1,213.9 L1715.3,216.8 L1716.5,219.8 L1717.6,222.8 L1718.6,225.8 L1719.6,228.8 L1720.5,231.8 L1721.4,234.9 L1722.1,238.0 L1722.9,241.1 L1723.6,244.0 L1724.2,246.9 L1724.9,250.4 L1725.5,253.8 L1726.0,257.0 L1726.6,260.0 L1727.6,263.9 L1728.6,268.2 L1729.0,270.6 L1729.4,273.4 L1729.7,276.4 L1730.1,279.7 L1730.5,283.1 L1730.8,286.5 L1731.1,290.0 L1731.4,293.3 L1731.7,296.5 L1732.0,300.1 L1732.2,304.1 L1732.5,308.4 L1732.7,312.5 L1732.8,316.2 L1733.0,319.2 L1733.1,321.2 L1733.1,321.9 L1733.1,326.0 L1733.1,330.0 L1733.1,334.1 L1733.1,338.2 L1733.1,342.3 L1733.1,346.3 L1733.1,350.4 L1733.1,354.5 L1733.1,358.6 L1733.1,362.6 L1733.1,366.7 L1733.1,370.8 L1733.1,374.8 L1733.1,378.9 L1733.2,383.0 L1733.2,387.1 L1733.2,391.1 L1733.2,395.2 L1733.2,399.3 L1733.2,403.3 L1733.2,407.4 L1733.2,411.5 L1733.2,415.6 L1733.2,419.6 L1733.2,423.7 L1733.2,427.8 L1733.2,431.9 L1733.2,435.9 L1733.2,440.0 L1733.2,444.0 L1733.2,448.0 L1733.2,452.0 L1733.2,456.0 L1733.2,460.0 L1733.2,464.0 L1733.2,468.0 L1733.2,472.1 L1733.2,476.1 L1733.2,480.1 L1733.2,484.1 L1733.2,488.1 L1733.2,492.1 L1733.2,496.1 L1733.2,500.1 L1733.2,504.1 L1733.2,508.1 L1733.2,512.1 L1733.2,516.1 L1733.2,520.1 L1733.2,524.1 L1733.2,528.2 L1733.2,532.2 L1733.2,536.2 L1733.2,540.2 L1733.2,544.2 L1733.2,548.2 L1733.2,552.2 L1733.2,556.2 L1733.2,560.2 L1733.2,564.2 L1733.2,568.2 L1733.2,572.2 L1733.2,576.2 L1733.2,580.2 L1733.2,584.3 L1733.2,588.3 L1733.2,592.3 L1733.2,596.3 L1733.2,600.3 L1733.2,604.3 L1733.2,608.3 L1733.2,612.3" stroke="#e4c4dd" stroke-width="4.4"/>
<path d="M1042.9,91.5 L1043.3,91.5 L1044.4,91.5 L1046.1,91.5 L1048.4,91.4 L1051.2,91.4 L1054.4,91.4 L1058.0,91.4 L1061.8,91.4 L1065.8,91.4 L1069.9,91.4 L1074.1,91.4 L1078.2,92.0 L1082.1,92.9 L1085.9,93.7 L1089.5,94.0 L1092.6,94.1 L1095.4,94.2 L1097.6,94.4 L1101.3,94.9 L1104.1,95.4 L1107.2,96.1 L1111.1,96.6 L1113.3,96.8 L1115.7,96.9 L1118.3,97.0 L1121.0,96.5 L1123.9,96.0 L1126.8,95.5 L1129.9,95.0 L1133.1,95.0 L1136.3,95.0 L1139.6,95.1 L1143.0,95.2 L1146.3,95.4 L1149.7,95.6 L1153.0,95.8 L1156.2,96.0 L1159.4,96.2 L1162.6,96.4 L1165.6,96.6 L1168.8,96.7 L1172.0,96.8 L1175.2,96.9 L1178.4,97.0 L1181.6,97.1 L1184.7,97.3 L1187.9,97.4 L1191.1,97.5 L1194.2,97.6 L1197.4,97.7 L1200.5,97.8 L1203.7,98.0 L1206.9,98.1 L1210.0,98.1 L1213.2,98.2 L1216.4,98.3 L1219.6,98.4 L1222.7,98.4 L1225.9,98.4 L1229.1,98.5 L1232.3,98.5 L1235.4,98.5 L1238.6,98.5 L1241.8,98.5 L1245.0,98.5 L1248.1,98.5 L1251.3,98.5 L1254.5,98.5 L1257.7,98.6 L1260.9,98.6 L1264.1,98.6 L1267.3,98.7 L1270.4,98.8 L1273.4,98.8 L1276.5,98.8 L1279.6,98.8 L1282.7,98.7 L1285.9,98.6 L1289.0,98.6 L1292.1,98.5 L1295.2,98.5 L1298.3,98.4 L1301.4,98.5 L1304.5,98.6 L1307.7,98.7 L1310.7,98.8 L1313.8,99.0 L1316.9,99.1 L1320.0,99.3 L1323.2,99.5 L1326.4,99.7 L1329.6,99.9 L1332.8,100.1 L1335.9,100.4 L1339.1,100.6 L1342.3,100.9 L1345.5,101.1 L1348.6,101.4 L1351.8,101.7 L1355.0,101.9 L1358.1,102.2 L1361.3,102.4 L1364.5,102.7 L1367.6,102.9 L1370.8,103.1 L1374.0,103.3 L1377.2,103.5 L1380.3,103.7 L1383.5,103.9 L1386.7,104.0 L1389.9,104.2 L1393.1,104.4 L1396.2,104.5 L1399.4,104.7 L1402.6,104.8 L1405.8,105.0 L1409.0,105.2 L1412.2,105.4 L1415.3,105.5 L1418.5,105.7 L1421.7,105.9 L1424.9,106.1 L1428.1,106.3 L1431.4,106.5 L1434.6,106.7 L1437.9,106.8 L1441.2,107.0 L1444.5,107.2 L1447.8,107.4 L1451.0,107.6 L1454.2,107.8 L1457.4,108.1 L1460.5,108.3 L1463.6,108.5 L1466.6,108.8 L1469.6,109.0 L1472.5,109.3 L1475.8,109.6 L1479.1,110.0 L1482.2,110.4 L1485.3,110.7 L1488.4,111.1 L1491.4,111.5 L1494.4,112.0 L1497.3,112.4 L1500.3,112.8 L1503.3,113.3 L1506.4,113.7 L1509.5,114.2 L1512.7,114.6 L1515.9,115.1 L1519.1,115.7 L1522.3,116.2 L1525.5,116.7 L1528.6,117.2 L1531.7,117.7 L1534.7,118.2 L1537.5,118.7 L1540.3,119.2 L1544.0,119.8 L1547.3,120.4 L1550.6,121.0 L1553.8,121.6 L1557.1,122.2 L1560.7,122.9 L1563.5,123.5 L1566.5,124.1 L1569.6,124.7 L1572.7,125.3 L1575.9,126.0 L1579.1,126.7 L1582.3,127.4 L1585.4,128.1 L1588.4,128.9 L1591.2,129.6 L1594.5,130.5 L1597.6,131.4 L1600.6,132.4 L1603.6,133.3 L1606.6,134.3 L1609.6,135.3 L1612.6,136.3 L1615.8,137.3 L1619.0,138.3 L1622.3,139.3 L1625.5,140.3 L1628.8,141.4 L1632.0,142.5 L1635.2,143.7 L1638.1,144.8 L1640.9,146.0 L1643.7,147.2 L1646.6,148.5 L1649.4,149.8 L1652.2,151.1 L1655.0,152.5 L1657.8,153.9 L1660.7,155.4 L1663.5,157.2 L1666.3,159.0 L1669.1,160.8 L1671.9,162.6 L1674.5,164.4 L1677.0,166.3 L1679.3,168.0 L1682.2,170.1 L1684.9,172.2 L1687.4,174.3 L1689.8,176.5 L1692.1,179.0 L1694.1,181.2 L1696.1,183.7 L1697.9,186.2 L1699.7,188.8 L1701.5,191.4 L1703.3,194.1 L1705.0,196.8 L1706.5,199.5 L1708.0,202.4 L1709.4,205.3 L1710.7,208.3 L1712.1,211.2 L1713.4,214.2 L1714.7,217.1 L1715.9,220.0 L1717.2,222.9 L1718.3,225.9 L1719.4,228.9 L1720.4,231.9 L1721.3,234.9 L1722.1,238.0 L1722.9,241.1 L1723.6,244.0 L1724.2,246.9 L1724.9,250.4 L1725.5,253.8 L1726.0,257.0 L1726.6,260.0 L1727.6,263.9 L1728.6,268.2 L1729.0,270.6 L1729.4,273.4 L1729.7,276.4 L1730.1,279.7 L1730.5,283.1 L1730.8,286.5 L1731.1,290.0 L1731.4,293.3 L1731.7,296.5 L1732.0,300.1 L1732.2,304.1 L1732.5,308.4 L1732.7,312.5 L1732.8,316.2 L1733.0,319.2 L1733.1,321.2 L1733.1,321.9 L1733.1,326.0 L1733.1,330.0 L1733.1,334.1 L1733.1,338.2 L1733.1,342.3 L1733.1,346.3 L1733.1,350.4 L1733.1,354.5 L1733.1,358.6 L1733.1,362.6 L1733.1,366.7 L1733.1,370.8 L1733.1,374.8 L1733.1,378.9 L1733.2,383.0 L1733.2,387.1 L1733.2,391.1 L1733.2,395.2 L1733.2,399.3 L1733.2,403.3 L1733.2,407.4 L1733.2,411.5 L1733.2,415.6 L1733.2,419.6 L1733.2,423.7 L1733.2,427.8 L1733.2,431.9 L1733.2,435.9 L1733.2,440.0 L1733.2,444.0 L1733.2,448.0 L1733.2,452.0 L1733.2,456.0 L1733.2,460.0 L1733.2,464.0 L1733.2,468.0 L1733.2,472.1 L1733.2,476.1 L1733.2,480.1 L1733.2,484.1 L1733.2,488.1 L1733.2,492.1 L1733.2,496.1 L1733.2,500.1 L1733.2,504.1 L1733.2,508.1 L1733.2,512.1 L1733.2,516.1 L1733.2,520.1 L1733.2,524.1 L1733.2,528.2 L1733.2,532.2 L1733.2,536.2 L1733.2,540.2 L1733.2,544.2 L1733.2,548.2 L1733.2,552.2 L1733.2,556.2 L1733.2,560.2 L1733.2,564.2 L1733.2,568.2 L1733.2,572.2 L1733.2,576.2 L1733.2,580.2 L1733.2,584.3 L1733.2,588.3 L1733.2,592.3 L1733.2,596.3 L1733.2,600.3 L1733.2,604.3 L1733.2,608.3 L1733.2,612.3" stroke="#80bfdd" stroke-width="4.4"/>
<path d="M1042.9,91.5 L1043.3,91.5 L1044.4,91.5 L1046.1,91.5 L1048.4,91.4 L1051.2,91.4 L1054.4,91.4 L1058.0,91.4 L1061.8,91.4 L1065.8,91.4 L1069.9,92.8 L1074.0,94.4 L1078.1,94.4 L1082.1,94.5 L1085.9,94.5 L1089.4,94.6 L1092.6,94.7 L1095.3,94.8 L1097.5,95.0 L1101.3,94.8 L1104.4,94.3 L1107.5,93.9 L1111.4,94.2 L1113.5,94.4 L1115.8,94.5 L1118.4,94.6 L1121.0,94.7 L1123.9,94.8 L1126.9,94.9 L1129.9,94.9 L1133.1,95.0 L1136.3,95.0 L1139.6,95.1 L1143.0,95.1 L1146.3,95.1 L1149.7,95.1 L1153.0,95.2 L1156.2,95.2 L1159.5,95.3 L1162.6,95.3 L1165.6,95.4 L1168.8,95.5 L1172.0,95.6 L1175.2,95.7 L1178.4,95.8 L1181.6,95.9 L1184.8,96.1 L1187.9,96.2 L1191.1,96.3 L1194.3,96.4 L1197.4,96.5 L1200.6,96.6 L1203.7,96.8 L1206.9,96.9 L1210.1,96.9 L1213.2,97.0 L1216.4,97.1 L1219.6,97.2 L1222.8,97.2 L1225.9,97.2 L1229.1,97.3 L1232.3,97.3 L1235.4,97.3 L1238.6,97.3 L1241.8,97.3 L1245.0,97.3 L1248.1,97.3 L1251.3,97.3 L1254.5,97.3 L1257.7,97.4 L1260.9,97.4 L1264.1,97.4 L1267.3,97.5 L1270.4,97.6 L1273.5,97.6 L1276.6,97.7 L1279.7,97.8 L1282.8,97.9 L1285.9,97.9 L1289.0,98.0 L1292.1,98.1 L1295.2,98.2 L1298.3,98.3 L1301.4,98.5 L1304.5,98.6 L1307.7,98.7 L1310.7,98.8 L1313.8,99.0 L1316.9,99.1 L1320.0,99.3 L1323.2,99.5 L1326.4,99.7 L1329.6,99.9 L1332.8,100.1 L1335.9,100.4 L1339.1,100.6 L1342.3,100.9 L1345.5,101.1 L1348.6,101.4 L1351.8,101.7 L1355.0,101.9 L1358.1,102.2 L1361.3,102.4 L1364.5,102.7 L1367.6,102.9 L1370.8,103.1 L1374.0,103.3 L1377.2,103.5 L1380.3,103.7 L1383.5,103.9 L1386.7,104.0 L1389.9,104.2 L1393.1,104.4 L1396.2,104.5 L1399.4,104.7 L1402.6,104.8 L1405.8,105.0 L1409.0,105.2 L1412.2,105.4 L1415.3,105.5 L1418.5,105.7 L1421.7,105.9 L1424.9,106.1 L1428.1,106.3 L1431.4,106.5 L1434.6,106.7 L1437.9,106.8 L1441.2,107.3 L1444.4,108.1 L1447.7,108.8 L1450.9,109.6 L1454.1,110.0 L1457.2,110.3 L1460.4,110.5 L1463.4,110.7 L1466.5,111.0 L1469.4,110.9 L1472.4,110.7 L1475.8,110.4 L1479.1,110.2 L1482.2,110.4 L1485.3,110.7 L1488.4,111.1 L1491.4,111.5 L1494.4,112.0 L1497.3,112.4 L1500.3,112.8 L1503.3,113.3 L1506.4,113.7 L1509.5,114.2 L1512.7,114.6 L1515.9,115.1 L1519.1,115.7 L1522.3,116.2 L1525.5,116.7 L1528.6,117.2 L1531.7,117.7 L1534.7,118.2 L1537.5,118.7 L1540.3,119.2 L1544.0,119.8 L1547.3,120.4 L1550.6,121.0 L1553.8,121.6 L1557.1,122.2 L1560.7,122.9 L1563.5,123.5 L1566.5,124.1 L1569.6,124.7 L1572.7,125.3 L1575.9,126.0 L1579.1,126.7 L1582.3,127.4 L1585.4,128.1 L1588.4,128.6 L1591.4,129.0 L1594.7,129.6 L1597.9,130.3 L1601.1,131.0 L1604.2,131.7 L1607.2,132.4 L1610.3,133.1 L1613.4,133.8 L1616.7,134.5 L1620.0,135.2 L1623.3,135.9 L1626.7,136.6 L1630.1,137.4 L1633.4,138.5 L1636.7,139.7 L1639.7,140.8 L1642.6,142.1 L1645.5,143.3 L1648.3,144.6 L1651.2,145.9 L1654.1,147.3 L1656.9,148.7 L1659.7,150.1 L1662.6,151.5 L1665.6,153.0 L1668.6,154.6 L1671.6,156.2 L1674.6,157.7 L1677.6,159.2 L1680.4,160.8 L1683.2,162.4 L1686.4,164.5 L1689.4,166.6 L1692.2,168.9 L1694.7,171.6 L1697.1,174.4 L1699.2,177.0 L1701.1,179.8 L1703.0,182.6 L1704.8,185.5 L1706.4,188.4 L1708.0,191.4 L1709.5,194.4 L1710.9,197.5 L1712.1,200.6 L1713.3,203.7 L1714.5,206.7 L1715.6,209.8 L1716.7,212.8 L1717.8,215.8 L1718.8,218.9 L1719.7,222.0 L1720.6,225.1 L1721.5,228.2 L1722.3,231.3 L1723.0,234.5 L1723.7,237.6 L1724.3,240.7 L1724.9,243.7 L1725.4,246.6 L1726.0,250.2 L1726.5,253.6 L1726.9,256.8 L1727.4,259.8 L1727.6,263.9 L1728.6,268.2 L1729.0,270.6 L1729.4,273.4 L1729.7,276.4 L1730.1,279.7 L1730.5,283.1 L1730.8,286.5 L1731.1,290.0 L1731.4,293.3 L1731.7,296.5 L1732.0,300.1 L1732.2,304.1 L1732.5,308.4 L1732.7,312.5 L1732.8,316.2 L1733.0,319.2 L1733.1,321.2 L1733.1,321.9 L1733.1,326.0 L1733.1,330.0 L1733.1,334.1 L1733.1,338.2 L1733.1,342.3 L1733.1,346.3 L1733.1,350.4 L1733.1,354.5 L1733.1,358.6 L1733.1,362.6 L1733.1,366.7 L1733.1,370.8 L1733.1,374.8 L1733.1,378.9 L1733.2,383.0 L1733.2,387.1 L1733.2,391.1 L1733.2,395.2 L1733.2,399.3 L1733.2,403.3 L1733.2,407.4 L1733.2,411.5 L1733.2,415.6 L1733.2,419.6 L1733.2,423.7 L1733.2,427.8 L1733.2,431.9 L1733.2,435.9 L1733.2,440.0 L1733.2,444.0 L1733.2,448.0 L1733.2,452.0 L1733.2,456.0 L1733.2,460.0 L1733.2,464.0 L1733.2,468.0 L1733.2,472.1 L1733.2,476.1 L1733.2,480.1 L1733.2,484.1 L1733.2,488.1 L1733.2,492.1 L1733.2,496.1 L1733.2,500.1 L1733.2,504.1 L1733.2,508.1 L1733.2,512.1 L1733.2,516.1 L1733.2,520.1 L1733.2,524.1 L1733.2,528.2 L1733.2,532.2 L1733.2,536.2 L1733.2,540.2 L1733.2,544.2 L1733.2,548.2 L1733.2,552.2 L1733.2,556.2 L1733.2,560.2 L1733.2,564.2 L1733.2,568.2 L1733.2,572.2 L1733.2,576.2 L1733.2,580.2 L1733.2,584.3 L1733.2,588.3 L1733.2,592.3 L1733.2,596.3 L1733.2,600.3 L1733.2,604.3 L1733.2,608.3 L1733.2,612.3" stroke="#eac786" stroke-width="4.4"/>
<path d="M1042.9,91.5 L1043.3,91.5 L1044.4,91.5 L1046.1,91.5 L1048.4,91.4 L1051.2,91.4 L1054.4,91.4 L1058.0,91.4 L1061.8,91.4 L1065.8,91.4 L1069.9,91.4 L1074.1,91.4 L1078.2,91.4 L1082.2,91.5 L1086.0,91.5 L1089.5,91.6 L1092.7,91.7 L1095.5,91.8 L1097.8,92.0 L1101.6,92.5 L1104.6,93.1 L1107.6,93.7 L1111.4,94.2 L1113.5,94.4 L1115.8,94.5 L1118.4,94.6 L1121.0,94.6 L1123.9,94.4 L1126.9,94.2 L1129.9,93.9 L1133.1,93.6 L1136.4,93.4 L1139.7,93.5 L1143.0,93.5 L1146.3,93.5 L1149.7,93.5 L1153.0,93.6 L1156.3,93.6 L1159.5,93.7 L1162.6,93.7 L1165.6,93.9 L1168.9,94.3 L1172.1,94.7 L1175.2,95.2 L1178.4,95.6 L1181.6,95.9 L1184.8,96.1 L1187.9,96.2 L1191.1,96.3 L1194.3,96.4 L1197.4,96.5 L1200.6,96.6 L1203.7,96.8 L1206.9,96.9 L1210.1,96.9 L1213.2,97.0 L1216.4,97.1 L1219.6,97.2 L1222.8,97.2 L1225.9,97.2 L1229.1,97.3 L1232.3,97.3 L1235.4,97.3 L1238.6,97.3 L1241.8,97.3 L1245.0,97.3 L1248.1,97.3 L1251.3,97.3 L1254.5,97.3 L1257.7,97.4 L1260.9,97.4 L1264.1,97.4 L1267.3,97.5 L1270.4,97.6 L1273.5,97.6 L1276.6,97.7 L1279.7,97.8 L1282.8,97.9 L1285.9,97.9 L1289.0,98.0 L1292.1,98.1 L1295.2,98.2 L1298.3,98.3 L1301.4,98.4 L1304.6,98.4 L1307.7,98.4 L1310.8,98.4 L1313.9,98.4 L1317.0,98.4 L1320.0,98.4 L1323.3,98.5 L1326.5,98.5 L1329.7,98.6 L1332.9,98.8 L1336.0,99.1 L1339.2,99.3 L1342.4,99.6 L1345.6,99.8 L1348.7,100.1 L1351.9,100.4 L1355.1,100.6 L1358.2,100.9 L1361.4,101.1 L1364.5,101.4 L1367.7,101.6 L1370.9,101.8 L1374.1,102.0 L1377.2,102.2 L1380.4,102.4 L1383.6,102.6 L1386.8,102.7 L1390.0,102.9 L1393.1,103.1 L1396.3,103.2 L1399.5,103.4 L1402.7,103.6 L1405.9,103.7 L1409.0,103.9 L1412.2,104.1 L1415.4,104.2 L1418.6,104.4 L1421.8,104.6 L1425.0,104.8 L1428.2,105.0 L1431.5,105.2 L1434.7,105.4 L1438.0,105.5 L1441.3,105.7 L1444.6,105.9 L1447.8,106.1 L1451.1,106.3 L1454.3,106.5 L1457.5,106.8 L1460.6,107.0 L1463.7,107.2 L1466.8,107.5 L1469.7,107.7 L1472.6,108.0 L1476.0,108.3 L1479.2,108.7 L1482.4,109.1 L1485.5,109.5 L1488.6,109.9 L1491.6,110.3 L1494.6,110.7 L1497.5,111.1 L1500.5,111.5 L1503.5,112.0 L1506.6,112.4 L1509.7,112.9 L1512.9,113.4 L1516.1,113.9 L1519.3,114.4 L1522.5,114.9 L1525.7,115.4 L1528.8,115.9 L1531.9,116.5 L1534.8,117.2 L1537.7,117.8 L1540.4,118.4 L1544.1,119.1 L1547.4,119.9 L1550.6,120.6 L1553.8,121.3 L1557.2,122.1 L1560.7,122.9 L1563.5,123.5 L1566.5,124.1 L1569.6,124.7 L1572.7,125.3 L1575.9,126.0 L1579.1,126.7 L1582.3,127.4 L1585.4,128.1 L1588.4,128.9 L1591.2,129.6 L1594.5,130.5 L1597.6,131.4 L1600.6,132.4 L1603.6,133.3 L1606.6,134.3 L1609.6,135.3 L1612.6,136.3 L1615.8,137.3 L1619.0,138.3 L1622.3,139.3 L1625.5,140.3 L1628.8,141.4 L1632.0,142.5 L1635.2,143.7 L1638.1,144.8 L1640.9,146.0 L1643.7,147.2 L1646.6,148.5 L1649.4,149.8 L1652.2,151.1 L1655.0,152.5 L1657.8,153.9 L1660.7,155.4 L1663.6,156.8 L1666.6,158.4 L1669.6,159.9 L1672.5,161.5 L1675.3,163.1 L1677.9,164.8 L1680.4,166.4 L1683.4,168.5 L1686.1,170.6 L1688.7,172.8 L1691.2,175.1 L1693.6,177.6 L1695.7,180.0 L1697.7,182.4 L1699.6,185.0 L1701.4,187.7 L1703.1,190.4 L1704.8,193.2 L1706.3,196.0 L1707.8,198.9 L1709.1,201.9 L1710.4,204.9 L1711.7,207.9 L1712.9,210.9 L1714.1,213.9 L1715.3,216.8 L1716.5,219.8 L1717.6,222.8 L1718.6,225.8 L1719.6,228.8 L1720.5,231.8 L1721.4,234.9 L1722.1,238.0 L1722.9,241.1 L1723.6,244.0 L1724.2,246.9 L1724.9,250.4 L1725.5,253.8 L1726.0,257.0 L1726.6,260.0 L1727.6,263.9 L1728.6,268.2 L1729.0,270.6 L1729.4,273.4 L1729.7,276.4 L1730.1,279.7 L1730.5,283.1 L1730.8,286.5 L1731.1,290.0 L1731.4,293.3 L1731.7,296.5 L1732.0,300.1 L1732.2,304.1 L1732.5,308.4 L1732.7,312.5 L1732.8,316.2 L1733.0,319.2 L1733.1,321.2 L1733.1,321.9 L1733.1,326.0 L1733.1,330.0 L1733.1,334.1 L1733.1,338.2 L1733.1,342.3 L1733.1,346.3 L1733.1,350.4 L1733.1,354.5 L1733.1,358.6 L1733.1,362.6 L1733.1,366.7 L1733.1,370.8 L1733.1,374.8 L1733.1,378.9 L1733.2,383.0 L1733.2,387.1 L1733.2,391.1 L1733.2,395.2 L1733.2,399.3 L1733.2,403.3 L1733.2,407.4 L1733.2,411.5 L1733.2,415.6 L1733.2,419.6 L1733.2,423.7 L1733.2,427.8 L1733.2,431.9 L1733.2,435.9 L1733.2,440.0 L1733.2,444.0 L1733.2,448.0 L1733.2,452.0 L1733.2,456.0 L1733.2,460.0 L1733.2,464.0 L1733.2,468.0 L1733.2,472.1 L1733.2,476.1 L1733.2,480.1 L1733.2,484.1 L1733.2,488.1 L1733.2,492.1 L1733.2,496.1 L1733.2,500.1 L1733.2,504.1 L1733.2,508.1 L1733.2,512.1 L1733.2,516.1 L1733.2,520.1 L1733.2,524.1 L1733.2,528.2 L1733.2,532.2 L1733.2,536.2 L1733.2,540.2 L1733.2,544.2 L1733.2,548.2 L1733.2,552.2 L1733.2,556.2 L1733.2,560.2 L1733.2,564.2 L1733.2,568.2 L1733.2,572.2 L1733.2,576.2 L1733.2,580.2 L1733.2,584.3 L1733.2,588.3 L1733.2,592.3 L1733.2,596.3 L1733.2,600.3 L1733.2,604.3 L1733.2,608.3 L1733.2,612.3" stroke="#a56ba8" stroke-width="4.4"/>
<path d="M1042.9,91.5 L1043.3,91.5 L1044.4,91.5 L1046.1,91.5 L1048.4,91.4 L1051.2,91.4 L1054.4,91.4 L1058.0,91.4 L1061.8,91.4 L1065.8,91.4 L1069.9,91.4 L1074.1,91.4 L1078.2,91.4 L1082.2,91.5 L1086.0,91.5 L1089.5,91.6 L1092.7,91.7 L1095.5,91.8 L1097.8,92.0 L1101.6,92.5 L1104.6,93.1 L1107.6,93.7 L1111.4,94.2 L1113.5,94.4 L1115.8,94.5 L1118.4,94.6 L1121.0,94.7 L1123.9,94.8 L1126.9,94.9 L1129.9,94.9 L1133.1,95.0 L1136.3,95.0 L1139.6,95.1 L1143.0,95.1 L1146.3,95.1 L1149.7,95.1 L1153.0,95.2 L1156.2,95.2 L1159.5,95.3 L1162.6,95.3 L1165.6,95.4 L1168.8,95.5 L1172.0,95.6 L1175.2,95.7 L1178.4,95.8 L1181.6,95.9 L1184.8,96.1 L1187.9,96.2 L1191.1,96.3 L1194.3,96.4 L1197.4,96.5 L1200.6,96.6 L1203.7,96.8 L1206.9,96.9 L1210.1,96.9 L1213.2,97.0 L1216.4,97.1 L1219.6,97.2 L1222.8,97.2 L1225.9,97.2 L1229.1,97.3 L1232.3,97.3 L1235.4,97.3 L1238.6,97.3 L1241.8,97.3 L1245.0,97.3 L1248.1,97.3 L1251.3,97.3 L1254.5,97.3 L1257.7,97.4 L1260.9,97.4 L1264.1,97.4 L1267.3,97.5 L1270.4,97.6 L1273.5,97.6 L1276.6,97.7 L1279.7,97.8 L1282.8,97.9 L1285.9,97.9 L1289.0,98.0 L1292.1,98.1 L1295.2,98.2 L1298.3,98.3 L1301.4,98.5 L1304.5,98.6 L1307.7,98.7 L1310.7,98.8 L1313.8,99.0 L1316.9,99.1 L1320.0,99.3 L1323.2,99.5 L1326.4,99.7 L1329.6,99.9 L1332.8,100.1 L1335.9,100.4 L1339.1,100.6 L1342.3,100.9 L1345.5,101.1 L1348.6,101.4 L1351.8,101.7 L1355.0,101.9 L1358.1,102.2 L1361.3,102.4 L1364.5,102.7 L1367.6,102.9 L1370.8,103.1 L1374.0,103.3 L1377.2,103.5 L1380.3,103.7 L1383.5,103.9 L1386.7,104.0 L1389.9,104.2 L1393.1,104.4 L1396.2,104.5 L1399.4,104.7 L1402.6,104.8 L1405.8,105.0 L1409.0,105.2 L1412.2,105.4 L1415.3,105.5 L1418.5,105.7 L1421.7,105.9 L1424.9,106.1 L1428.1,106.3 L1431.4,106.5 L1434.6,106.7 L1437.9,106.8 L1441.2,107.0 L1444.5,107.2 L1447.8,107.4 L1451.0,107.6 L1454.2,107.8 L1457.4,108.1 L1460.5,108.3 L1463.6,108.5 L1466.6,108.8 L1469.6,109.0 L1472.5,109.3 L1475.8,109.6 L1479.1,110.0 L1482.2,110.4 L1485.3,110.7 L1488.4,111.1 L1491.4,111.5 L1494.4,112.0 L1497.3,112.4 L1500.3,112.8 L1503.3,113.3 L1506.4,113.7 L1509.5,114.2 L1512.7,114.6 L1515.9,115.1 L1519.1,115.7 L1522.3,116.2 L1525.5,116.7 L1528.6,117.2 L1531.7,117.7 L1534.7,118.2 L1537.5,118.7 L1540.3,119.2 L1544.0,119.8 L1547.3,120.4 L1550.6,121.0 L1553.8,121.6 L1557.1,122.2 L1560.7,122.9 L1563.5,123.5 L1566.5,124.1 L1569.6,124.7 L1572.7,125.3 L1575.9,126.0 L1579.1,126.7 L1582.3,127.4 L1585.4,128.1 L1588.4,128.9 L1591.2,129.6 L1594.5,130.5 L1597.6,131.4 L1600.6,132.4 L1603.6,133.3 L1606.6,134.3 L1609.6,135.3 L1612.6,136.3 L1615.8,137.3 L1619.0,138.3 L1622.3,139.3 L1625.5,140.3 L1628.8,141.4 L1632.0,142.5 L1635.2,143.7 L1638.1,144.8 L1640.9,146.0 L1643.7,147.2 L1646.6,148.5 L1649.4,149.8 L1652.2,151.1 L1655.0,152.5 L1657.8,153.9 L1660.7,155.4 L1663.6,156.8 L1666.6,158.4 L1669.6,159.9 L1672.5,161.5 L1675.3,163.1 L1677.9,164.8 L1680.4,166.4 L1683.4,168.5 L1686.1,170.6 L1688.7,172.8 L1691.2,175.1 L1693.6,177.6 L1695.7,180.0 L1697.7,182.4 L1699.6,185.0 L1701.4,187.7 L1703.1,190.4 L1704.8,193.2 L1706.3,196.0 L1707.8,198.9 L1709.1,201.9 L1710.4,204.9 L1711.7,207.9 L1712.9,210.9 L1714.1,213.9 L1715.3,216.8 L1716.5,219.8 L1717.6,222.8 L1718.6,225.8 L1719.6,228.8 L1720.5,231.8 L1721.4,234.9 L1722.1,238.0 L1722.9,241.1 L1723.6,244.0 L1724.2,246.9 L1724.9,250.4 L1725.5,253.8 L1726.0,257.0 L1726.6,260.0 L1727.6,263.9 L1728.6,268.2 L1729.0,270.6 L1729.4,273.4 L1729.7,276.4 L1730.1,279.7 L1730.5,283.1 L1730.8,286.5 L1731.1,290.0 L1731.4,293.3 L1731.7,296.5 L1732.0,300.1 L1732.2,304.1 L1732.5,308.4 L1732.7,312.5 L1732.8,316.2 L1733.0,319.2 L1733.1,321.2 L1733.1,321.9 L1733.2,440.0 L1733.2,612.3" stroke="#6e3a8c" stroke-width="7" stroke-linecap="square"/>
<path d="M542.7,607.0 L543.6,603.4 L545.5,600.2 L546.5,597.8 L546.9,595.0 L549.0,592.0 L549.6,588.7 L551.1,584.9 L553.2,583.1 L554.1,578.8 L556.4,577.0 L557.6,573.0 L559.1,569.5 L561.1,565.6 L562.2,562.7 L562.2,559.1 L563.8,557.1 L565.5,553.2 L565.7,549.8 L567.4,545.9 L568.0,541.7 L567.9,538.4 L569.5,535.4 L571.1,532.3 L571.8,529.6 L573.4,526.1 L575.3,523.9 L575.6,520.7 L577.4,517.6 L578.9,515.2 L580.6,511.0 L582.5,507.6 L582.9,505.6 L583.8,502.0 L585.1,499.2 L587.3,495.8 L589.5,492.5 L591.4,488.6 L592.8,485.6 L594.2,482.0 L598.0,479.2 L601.5,476.5 L604.1,474.7 L605.4,471.5 L606.7,469.0 L609.7,466.9 L612.0,462.9 L613.4,460.7 L615.8,459.0 L617.8,456.7 L620.7,454.1 L623.1,453.2 L625.9,450.3 L629.2,448.8 L632.3,447.5 L635.0,444.8 L639.1,442.9 L641.7,440.6 L644.6,437.6 L646.1,433.8 L649.0,431.0 L651.2,428.7 L654.8,424.4 L655.8,421.6 L658.9,419.1 L661.4,416.6 L665.0,413.7 L666.9,411.5 L670.8,409.2 L673.7,407.3 L677.9,405.6 L680.3,403.5 L683.8,400.5 L686.6,399.3 L690.0,397.8 L692.5,395.9 L694.3,393.2 L696.4,391.7 L699.0,388.7 L702.4,387.5 L705.6,384.8 L709.9,383.4 L712.9,380.6 L715.6,378.8 L719.8,377.5 L722.4,375.6 L725.5,374.8 L729.7,372.5 L733.2,370.2 L735.8,369.0 L739.5,367.6 L742.6,365.6 L746.7,365.8 L749.4,363.6 L752.6,362.9 L755.3,361.6 L759.3,361.6 L762.3,359.9 L766.5,358.4 L769.2,357.7 L771.6,357.7 L775.9,355.4 L779.1,355.2 L782.5,353.8 L785.8,355.1 L789.0,353.7 L793.0,353.3 L795.2,351.9 L798.9,351.3 L801.6,350.6 L805.5,349.5 L808.7,347.8" stroke="#3fa9e8" stroke-width="4.8"/>
<path d="M552.6,606.5 L553.2,602.6 L554.9,600.6 L555.8,596.9 L556.6,593.4 L556.4,589.7 L557.5,585.4 L558.6,582.9 L559.3,579.3 L561.3,576.9 L564.2,573.3 L565.7,571.1 L566.5,567.0 L568.4,563.2 L568.1,559.4 L569.1,555.8 L571.0,553.5 L571.8,549.2 L573.2,546.1 L573.7,543.5 L573.5,540.2 L575.7,537.3 L576.3,533.7 L576.0,531.1 L577.4,527.5 L578.5,524.9 L581.1,521.1 L581.5,519.0 L583.5,514.4 L583.8,511.3 L586.6,509.4 L587.3,505.7 L587.9,502.8 L590.6,499.1 L590.7,495.4 L592.2,491.9 L593.7,488.6 L597.4,487.4 L598.8,485.5 L600.8,483.0 L603.1,480.0 L604.5,478.5 L607.2,475.2 L608.3,472.5 L610.4,470.2 L612.5,467.0 L614.4,465.1 L616.9,461.5 L619.3,458.7 L621.4,456.3 L623.1,453.1 L625.2,449.3 L627.3,445.2 L629.2,442.9 L632.6,440.4 L635.3,439.5 L639.0,436.9 L643.1,435.0 L645.5,431.9 L646.7,428.7 L649.1,426.0 L650.3,422.4 L653.0,419.1 L655.3,416.7 L659.0,415.2 L661.4,413.6 L664.8,411.1 L666.8,409.2 L670.2,407.0 L673.1,405.2 L676.2,402.8 L679.4,401.4 L682.6,398.4 L685.9,396.9 L689.3,393.5 L691.6,392.5 L694.5,389.5 L697.1,386.3 L697.8,384.3 L699.7,381.4 L701.7,379.6 L704.9,377.5 L705.8,374.6 L708.4,371.7 L711.5,369.0 L714.8,368.5 L716.4,366.4 L719.8,363.6 L723.6,362.1 L727.7,360.6 L731.9,360.2 L733.7,358.5 L737.6,357.7 L741.1,357.4 L744.0,357.3 L748.0,357.6 L752.2,356.7 L755.6,357.4 L759.3,357.4 L761.7,355.9 L766.1,355.0 L769.2,353.7 L771.7,353.3 L776.3,351.9 L779.1,349.8" stroke="#e2b1d6" stroke-width="4.8"/>
<path d="M544.5,607.0 L545.1,603.0 L546.3,600.3 L548.0,595.5 L549.6,593.3 L551.0,589.0 L552.8,585.6 L552.8,583.8 L554.7,580.4 L555.1,576.2 L557.0,574.0 L558.6,570.4 L558.7,567.8 L561.0,564.0 L562.0,560.0 L562.8,557.6 L564.2,554.7 L566.5,551.0 L567.3,547.0 L568.3,544.3 L568.7,539.1 L570.0,536.0 L571.3,532.3 L571.9,529.0 L573.1,525.9 L574.9,522.8 L576.5,520.0 L578.5,516.2 L579.5,512.6 L580.7,508.9 L582.1,505.5 L584.0,503.0 L585.9,499.8 L586.4,496.5 L589.3,492.5 L590.0,490.0 L592.5,487.0 L593.8,484.9 L595.5,481.4 L597.6,478.5 L599.6,476.1 L600.6,472.5 L602.9,468.8 L604.0,465.0 L605.0,461.3 L607.5,458.7 L608.7,456.5 L611.0,452.8 L612.7,451.4 L616.0,448.5 L616.9,445.1 L619.3,442.9 L621.7,440.4 L624.2,438.0 L627.2,436.6 L631.3,433.5 L633.2,431.0 L635.7,429.9 L638.8,426.8 L641.2,424.9 L645.0,423.1 L647.0,420.1 L648.5,417.2 L650.1,413.8 L653.0,411.2 L655.2,408.5 L658.1,405.4 L661.5,403.3 L664.8,401.3 L667.9,400.0 L671.2,399.0 L674.1,398.0 L676.5,395.7 L680.5,394.1 L682.6,393.4 L685.7,391.8 L687.1,390.4 L691.3,388.2 L693.6,386.7 L695.2,384.4 L698.5,382.5 L702.3,381.4 L706.6,379.8 L709.9,377.5 L713.4,375.5 L716.8,372.5 L719.8,369.5 L722.6,366.7 L725.7,365.3 L729.7,363.6 L732.3,362.6 L736.3,360.6 L739.5,358.7 L742.9,358.0 L745.7,355.7 L749.4,356.0 L752.0,354.5 L756.0,353.6 L760.3,351.7 L764.0,351.5 L767.7,349.9 L769.8,348.7 L774.2,347.4 L777.1,346.8" stroke="#5ab3d8" stroke-width="4.8"/>
<path d="M546.2,607.0 L547.3,604.7 L547.5,600.4 L548.1,597.7 L549.2,594.4 L549.7,590.2 L549.4,587.4 L551.1,584.2 L551.4,580.5 L551.2,577.8 L552.6,575.0 L553.8,572.1 L554.7,568.2 L555.3,565.3 L556.0,561.4 L557.7,558.3 L558.7,556.4 L557.9,552.4 L559.6,549.2 L561.8,546.1 L562.8,540.9 L564.5,537.4 L565.4,534.9 L566.7,530.8 L568.0,527.4 L570.0,524.0 L572.1,520.2 L573.2,517.7 L574.7,514.9 L574.8,512.0 L576.6,507.3 L578.0,505.0 L578.2,502.0 L580.2,498.6 L580.8,495.7 L582.2,493.6 L582.8,490.5 L585.5,486.3 L586.0,484.0 L588.2,481.5 L589.6,477.9 L590.0,475.2 L591.7,472.5 L594.6,469.2 L595.4,465.5 L597.2,461.3 L599.6,458.7 L600.8,456.3 L603.1,453.6 L605.0,449.4 L607.5,446.3 L609.2,444.7 L611.4,440.9 L614.4,438.7 L616.3,436.0 L619.1,432.6 L621.1,428.9 L623.4,426.8 L625.3,424.1 L628.2,421.4 L629.9,417.3 L633.5,414.5 L635.2,412.2 L637.8,409.6 L640.1,408.0 L643.1,405.3 L647.9,403.4 L651.0,402.3 L653.8,399.0 L656.1,396.2 L657.8,392.8 L660.9,390.4 L663.3,389.5 L666.8,386.6 L670.5,386.4 L672.7,383.2 L675.2,381.5 L678.7,380.6 L681.2,378.3 L683.9,377.1 L687.3,376.6 L690.5,374.2 L692.7,372.9 L695.4,371.0 L698.5,369.7 L701.5,367.6 L706.9,365.6 L709.9,364.6 L713.2,362.5 L717.2,359.5 L719.8,357.7 L722.7,356.1 L726.2,355.3 L729.7,354.2 L733.8,354.2 L736.9,352.0 L739.5,352.2 L742.0,351.8 L746.8,350.6 L749.4,349.8 L753.4,346.8" stroke="#e5b65e" stroke-width="4.8"/>
<path d="M537.4,606.5 L538.8,601.7 L539.8,598.7 L540.9,595.5 L543.0,591.4 L543.7,586.8 L545.6,583.0 L545.0,579.6 L546.7,577.2 L548.5,574.0 L549.0,570.8 L549.7,567.0 L551.6,563.1 L553.6,559.1 L553.4,556.4 L554.3,553.5 L555.7,549.3 L555.3,546.0 L556.6,543.3 L558.8,540.2 L560.6,536.4 L563.4,533.6 L567.5,532.4 L569.0,529.3 L570.2,525.5 L572.1,521.9 L573.4,519.6 L574.2,516.3 L576.6,513.5 L577.6,510.0 L577.6,506.4 L579.3,503.7 L581.3,500.9 L581.4,496.5 L582.9,494.5 L584.0,490.6 L585.3,487.9 L587.8,484.7 L589.7,480.0 L591.2,476.1 L593.4,473.7 L596.0,470.2 L598.2,468.1 L599.6,464.6 L601.3,461.3 L603.7,458.7 L605.1,455.7 L605.7,453.9 L607.5,451.4 L609.5,447.8 L611.8,444.4 L613.6,442.1 L616.7,440.2 L618.1,436.4 L620.5,434.7 L623.3,431.0 L625.5,428.5 L628.2,427.4 L632.5,426.6 L635.0,425.1 L638.2,422.2 L639.7,421.6 L643.1,419.1 L645.5,415.5 L647.4,413.4 L648.8,410.5 L650.4,407.2 L653.0,405.3 L655.6,402.9 L659.8,400.3 L662.7,398.3 L664.6,397.3 L668.4,394.4 L670.8,392.4 L673.0,390.7 L676.5,389.9 L679.1,387.2 L683.4,385.0 L685.5,384.7 L688.6,382.5 L692.9,380.2 L695.4,378.7 L700.0,378.0 L703.2,375.3 L704.9,373.5 L708.6,373.6 L711.2,371.8 L714.8,371.5 L718.9,370.7 L721.0,370.0 L724.7,368.6 L727.7,366.9 L730.4,366.4 L734.6,364.6 L738.6,363.5 L742.0,361.1 L744.5,360.6 L747.3,358.9 L751.9,358.2 L754.4,355.7 L757.5,354.4 L760.9,354.0 L764.3,353.2 L768.3,351.7 L771.4,351.7 L774.1,350.3 L778.2,349.7 L781.1,348.2 L784.7,347.6 L788.0,347.6" stroke="#9b4a9b" stroke-width="4.8"/>
<path d="M1119.8,348.5 L1122.8,349.3 L1126.9,349.8 L1129.2,352.1 L1132.5,351.9 L1135.5,353.8 L1139.6,354.8 L1142.4,357.0 L1146.6,358.4 L1148.7,358.2 L1151.5,360.3 L1155.4,361.7 L1158.6,363.2 L1160.6,364.7 L1164.1,366.7 L1167.2,368.6 L1169.8,368.8 L1173.0,370.7 L1175.2,372.6 L1177.7,374.8 L1180.3,376.8 L1181.8,379.3 L1184.0,382.8 L1187.0,384.5 L1189.8,386.2 L1192.1,389.3 L1195.0,389.9 L1198.2,392.6 L1201.1,393.6 L1202.9,396.3 L1205.5,399.2 L1208.8,401.7 L1210.0,402.9 L1212.7,405.0 L1216.9,408.0 L1218.7,410.2 L1221.9,412.9 L1224.3,416.0 L1225.7,419.5 L1228.6,422.0 L1231.1,424.3 L1232.1,428.1 L1233.0,430.7 L1234.6,433.3 L1236.4,437.0 L1238.5,439.8 L1241.7,441.7 L1243.5,444.4 L1247.7,446.7 L1250.3,449.7 L1252.0,452.1 L1254.8,455.7 L1255.5,457.9 L1258.3,461.6 L1260.0,464.5 L1262.2,466.5 L1263.2,470.5 L1265.5,472.6 L1267.5,475.8 L1269.0,479.6 L1270.9,482.0 L1272.9,484.7 L1275.7,488.8 L1276.7,490.3 L1278.8,493.9 L1280.3,496.4 L1280.1,500.7 L1282.0,503.5 L1283.1,506.7 L1284.3,508.4 L1285.5,512.0 L1285.8,515.1 L1288.0,518.8 L1288.2,521.3 L1289.8,524.1 L1290.5,526.7 L1292.3,530.1 L1293.0,534.5 L1293.0,537.3 L1294.9,541.7 L1294.5,543.8 L1295.7,548.1 L1298.0,552.0 L1298.7,553.3 L1301.0,556.9 L1302.4,560.4 L1303.8,562.6 L1304.7,566.2 L1306.2,569.1 L1306.4,573.6 L1308.1,575.8 L1308.0,579.6 L1309.5,583.0 L1310.4,586.6 L1310.3,589.5 L1311.9,593.9 L1311.3,596.7 L1313.1,599.0 L1313.8,602.5 L1313.8,606.5" stroke="#3fa9e8" stroke-width="4.8"/>
<path d="M1137.6,346.9 L1140.9,348.8 L1144.0,350.1 L1146.8,352.4 L1150.0,354.0 L1153.1,355.7 L1156.3,356.8 L1158.7,358.6 L1162.8,359.3 L1166.5,361.8 L1169.2,362.7 L1171.9,364.4 L1174.7,366.5 L1176.8,369.4 L1179.5,371.6 L1183.0,374.0 L1185.4,375.7 L1188.0,378.2 L1190.6,381.9 L1192.6,383.1 L1195.0,386.4 L1197.5,389.2 L1200.7,391.7 L1203.0,396.2 L1204.8,398.3 L1207.6,401.2 L1209.0,403.9 L1211.9,406.3 L1215.1,407.2 L1216.7,410.2 L1219.2,413.9 L1219.9,415.8 L1223.1,418.4 L1224.6,422.0 L1227.3,425.1 L1229.1,428.3 L1230.5,433.2 L1232.5,435.9 L1234.9,437.9 L1238.5,440.5 L1240.6,442.8 L1244.4,445.8 L1245.3,449.5 L1247.7,452.4 L1248.2,455.2 L1250.3,457.6 L1252.8,460.0 L1254.1,463.5 L1257.0,466.5 L1259.4,470.3 L1260.7,473.6 L1263.8,477.3 L1266.0,480.5 L1269.7,482.6 L1271.1,485.4 L1272.5,488.2 L1274.0,491.8 L1274.0,495.1 L1275.3,497.1 L1276.5,500.7 L1278.1,502.9 L1279.3,506.3 L1280.2,510.6 L1281.2,513.1 L1281.8,514.9 L1283.3,518.8 L1283.6,521.8 L1285.7,525.9 L1286.7,530.3 L1287.1,532.7 L1288.9,536.8 L1289.6,539.6 L1288.9,543.8 L1289.6,547.4 L1290.2,551.4 L1291.2,554.9 L1292.3,558.0 L1293.2,562.1 L1293.2,566.5 L1294.3,568.7 L1295.7,573.0 L1296.7,576.1 L1299.8,579.2 L1300.6,581.1 L1302.5,584.3 L1302.5,587.7 L1304.4,590.4 L1305.5,593.7 L1306.9,597.4 L1307.0,600.1 L1307.7,604.2 L1309.3,606.9" stroke="#e2b1d6" stroke-width="4.8"/>
<path d="M1147.5,346.9 L1149.6,348.3 L1153.3,349.1 L1155.6,351.4 L1158.5,352.3 L1163.1,352.8 L1165.3,354.8 L1167.5,357.0 L1170.8,359.0 L1174.1,360.2 L1176.0,362.4 L1179.1,364.7 L1181.3,367.6 L1185.6,369.5 L1187.1,372.0 L1191.0,373.6 L1193.9,375.9 L1196.4,378.2 L1198.0,379.9 L1201.0,383.0 L1203.8,384.4 L1207.2,387.9 L1211.1,390.4 L1214.0,392.0 L1216.9,393.6 L1219.1,396.0 L1222.1,398.2 L1223.7,400.5 L1226.6,402.3 L1229.9,404.3 L1232.2,406.4 L1233.6,409.2 L1236.5,412.2 L1238.4,416.5 L1239.9,418.8 L1241.6,422.2 L1242.4,426.0 L1245.2,428.7 L1249.2,430.3 L1252.3,431.9 L1254.6,435.7 L1256.2,438.4 L1258.6,441.4 L1260.1,444.2 L1262.3,446.4 L1264.2,449.7 L1265.9,452.5 L1267.9,455.6 L1270.2,456.6 L1273.1,460.0 L1273.6,464.0 L1275.2,465.8 L1275.8,468.8 L1278.2,473.0 L1279.0,476.0 L1280.5,479.4 L1280.6,482.2 L1282.3,485.6 L1284.2,488.7 L1284.1,491.7 L1286.0,494.0 L1287.7,498.4 L1287.3,500.7 L1288.3,504.0 L1290.6,509.0 L1291.0,512.0 L1292.1,516.0 L1293.0,518.4 L1292.9,521.4 L1295.0,525.0 L1295.0,528.8 L1295.4,531.9 L1296.7,536.1 L1298.0,539.1 L1298.9,542.4 L1301.1,546.3 L1302.0,550.2 L1301.6,553.4 L1303.6,557.2 L1304.4,561.1 L1305.2,564.3 L1306.5,566.8 L1308.1,570.0 L1308.9,573.5 L1309.3,577.5 L1309.5,580.1 L1312.0,584.7 L1311.8,587.0 L1313.8,590.7 L1314.9,593.3 L1316.3,596.1 L1318.6,599.5 L1320.4,602.6 L1322.8,604.6 L1325.0,607.0" stroke="#5ab3d8" stroke-width="4.8"/>
<path d="M1168.2,347.9 L1170.8,348.7 L1174.5,350.4 L1176.4,352.0 L1179.3,353.5 L1183.4,354.8 L1186.3,355.3 L1189.0,356.8 L1191.6,358.6 L1195.3,360.0 L1198.0,361.9 L1199.6,364.3 L1202.9,366.7 L1206.8,368.7 L1209.0,371.3 L1211.9,372.5 L1215.6,375.0 L1218.7,376.5 L1221.9,379.3 L1223.9,381.3 L1226.4,384.9 L1230.0,387.3 L1232.5,389.4 L1233.9,392.3 L1237.0,395.5 L1237.8,398.3 L1240.5,401.3 L1243.6,403.0 L1244.7,405.3 L1247.9,408.5 L1249.3,409.4 L1252.3,412.2 L1253.3,414.8 L1255.3,417.5 L1256.5,420.5 L1258.3,424.0 L1261.1,427.9 L1261.5,431.8 L1263.5,434.2 L1266.2,437.9 L1268.5,441.4 L1269.6,443.7 L1270.1,447.0 L1272.1,449.7 L1273.6,452.6 L1276.4,455.7 L1278.8,460.0 L1280.3,463.9 L1282.5,466.8 L1284.1,470.1 L1285.5,473.6 L1285.5,477.0 L1286.6,480.5 L1288.2,483.2 L1288.3,487.0 L1288.6,489.3 L1289.8,493.7 L1290.1,496.2 L1291.7,499.6 L1293.0,502.5 L1293.7,505.1 L1294.2,508.4 L1295.0,511.1 L1296.8,514.2 L1299.1,517.8 L1300.7,520.1 L1302.1,523.7 L1304.3,526.8 L1305.9,530.1 L1307.0,534.5 L1307.0,537.5 L1308.9,540.6 L1309.2,545.3 L1310.0,548.0 L1309.8,551.7 L1310.6,555.7 L1312.6,558.8 L1311.7,562.5 L1313.0,566.0 L1313.6,569.8 L1314.0,573.1 L1315.1,576.3 L1314.8,580.5 L1315.0,583.5 L1316.0,586.6 L1316.7,590.4 L1317.0,594.2 L1318.3,595.9 L1319.4,600.1 L1320.3,603.4 L1322.0,607.0" stroke="#e5b65e" stroke-width="4.8"/>
<path d="M1129.7,347.3 L1132.1,348.6 L1136.2,350.5 L1139.3,351.1 L1142.4,353.4 L1147.0,354.4 L1149.5,355.8 L1151.8,358.0 L1154.9,358.7 L1157.3,361.4 L1161.3,362.8 L1163.5,364.3 L1165.9,366.7 L1169.2,367.6 L1172.1,369.0 L1176.1,370.6 L1178.7,370.8 L1182.0,371.7 L1185.1,373.6 L1188.7,376.3 L1191.0,379.5 L1195.6,380.6 L1198.9,382.5 L1201.8,384.2 L1205.1,386.3 L1207.5,389.4 L1211.1,390.8 L1214.7,393.4 L1217.1,395.7 L1220.1,398.4 L1223.3,400.2 L1226.6,403.5 L1228.6,405.2 L1229.4,409.4 L1232.6,413.0 L1233.5,416.1 L1235.6,418.7 L1239.2,419.2 L1240.8,422.8 L1244.4,424.0 L1247.2,426.5 L1248.6,429.3 L1251.3,433.4 L1254.3,435.9 L1256.0,438.2 L1259.0,442.4 L1259.6,445.5 L1262.2,447.8 L1263.7,451.4 L1265.2,454.6 L1266.7,457.6 L1267.5,460.0 L1268.1,463.4 L1269.8,466.6 L1270.8,470.0 L1272.0,472.4 L1273.6,474.8 L1274.5,477.4 L1276.5,480.1 L1277.9,483.1 L1279.5,486.6 L1281.0,489.4 L1282.2,493.1 L1282.4,496.0 L1284.3,498.6 L1285.8,502.1 L1286.4,504.3 L1287.8,507.5 L1289.9,510.0 L1290.6,514.2 L1290.8,517.4 L1293.3,521.2 L1293.9,524.5 L1295.5,526.8 L1296.8,530.1 L1300.5,531.5 L1303.3,534.8 L1305.9,536.8 L1306.7,540.5 L1307.9,542.8 L1309.3,545.9 L1310.0,549.5 L1310.1,552.1 L1311.2,555.5 L1312.6,558.2 L1312.7,561.7 L1314.2,564.7 L1314.5,567.6 L1315.4,572.0 L1316.6,574.9 L1317.2,577.5 L1317.8,580.3 L1318.6,584.0 L1320.1,587.5 L1320.0,590.5 L1321.7,593.3 L1324.6,596.2 L1326.2,599.0 L1327.1,602.4 L1329.6,606.5" stroke="#9b4a9b" stroke-width="4.8"/>
</g>
<path d="M107.49,243.04 H280.14 M107.49,112.59 H280.14 M107.49,243.04 V112.59 M280.14,243.04 V112.59" fill="none" stroke="#000" stroke-width="3.4" stroke-dasharray="3.39 5.59"/>
<path d="M466.60,608.30 H811.90 M466.60,347.40 H811.90 M466.60,608.30 V347.40 M811.90,608.30 V347.40" fill="none" stroke="#000" stroke-width="3.4" stroke-dasharray="3.39 5.59"/>
<path d="M280.14,243.04 L466.60,347.40" fill="none" stroke="#000" stroke-width="3.4" stroke-dasharray="3.39 5.59"/>
<path d="M1560.62,247.74 H1733.20 M1560.62,117.54 H1733.20 M1560.62,247.74 V117.54 M1733.20,247.74 V117.54" fill="none" stroke="#000" stroke-width="3.4" stroke-dasharray="3.39 5.59"/>
<path d="M1042.90,607.80 H1388.05 M1042.90,346.90 H1388.05 M1042.90,607.80 V346.90 M1388.05,607.80 V346.90" fill="none" stroke="#000" stroke-width="3.4" stroke-dasharray="3.39 5.59"/>
<path d="M1560.62,247.74 L1388.05,346.90" fill="none" stroke="#000" stroke-width="3.4" stroke-dasharray="3.39 5.59"/>
<g font-family="'DejaVu Sans','Liberation Sans',sans-serif" fill="#161616">
<rect x="477.5" y="134.6" width="338.1" height="196.1" rx="4.5" fill="#fff" fill-opacity="0.8" stroke="#dbdbdb" stroke-width="2.9"/>
<path d="M483.4,152.2 H530.9" stroke="#71b8ec" stroke-width="4.8" fill="none"/>
<text transform="translate(545.6 159.5) scale(1 1.012)" font-size="21.3" text-anchor="start" >1st fold (AUC = 0.9506)</text>
<path d="M483.4,183.8 H530.9" stroke="#e4c4dd" stroke-width="4.8" fill="none"/>
<text transform="translate(545.6 191.1) scale(1 1.012)" font-size="21.3" text-anchor="start" >2nd fold (AUC = 0.9527)</text>
<path d="M483.4,215.4 H530.9" stroke="#80bfdd" stroke-width="4.8" fill="none"/>
<text transform="translate(545.6 222.7) scale(1 1.012)" font-size="21.3" text-anchor="start" >3rd fold (AUC = 0.9539)</text>
<path d="M483.4,247.0 H530.9" stroke="#eac786" stroke-width="4.8" fill="none"/>
<text transform="translate(545.6 254.3) scale(1 1.012)" font-size="21.3" text-anchor="start" >4th fold (AUC = 0.9557)</text>
<path d="M483.4,278.6 H530.9" stroke="#a56ba8" stroke-width="4.8" fill="none"/>
<text transform="translate(545.6 285.9) scale(1 1.012)" font-size="21.3" text-anchor="start" >5th fold (AUC = 0.9569)</text>
<path d="M482.7,310.2 H531.9" stroke="#6e3a8c" stroke-width="7" fill="none"/>
<text transform="translate(545.6 317.5) scale(1 1.012)" font-size="21.3" text-anchor="start" >Average (AUC = 0.9540)</text>
<rect x="1019.3" y="133.2" width="351.0" height="196.7" rx="4.5" fill="#fff" fill-opacity="0.8" stroke="#dbdbdb" stroke-width="2.9"/>
<path d="M1025.2,151.1 H1072.9" stroke="#71b8ec" stroke-width="4.8" fill="none"/>
<text transform="translate(1087.6 158.4) scale(1 1.012)" font-size="21.3" text-anchor="start" >1st fold (AUPR = 0.9485)</text>
<path d="M1025.2,182.7 H1072.9" stroke="#e4c4dd" stroke-width="4.8" fill="none"/>
<text transform="translate(1087.6 190.0) scale(1 1.012)" font-size="21.3" text-anchor="start" >2nd fold (AUPR = 0.9489)</text>
<path d="M1025.2,214.2 H1072.9" stroke="#80bfdd" stroke-width="4.8" fill="none"/>
<text transform="translate(1087.6 221.5) scale(1 1.012)" font-size="21.3" text-anchor="start" >3rd fold (AUPR = 0.9527)</text>
<path d="M1025.2,245.8 H1072.9" stroke="#eac786" stroke-width="4.8" fill="none"/>
<text transform="translate(1087.6 253.1) scale(1 1.012)" font-size="21.3" text-anchor="start" >4th fold (AUPR = 0.9549)</text>
<path d="M1025.2,277.3 H1072.9" stroke="#a56ba8" stroke-width="4.8" fill="none"/>
<text transform="translate(1087.6 284.6) scale(1 1.012)" font-size="21.3" text-anchor="start" >5th fold (AUPR = 0.9554)</text>
<path d="M1024.5,308.9 H1073.9" stroke="#6e3a8c" stroke-width="7" fill="none"/>
<text transform="translate(1087.6 316.2) scale(1 1.012)" font-size="21.3" text-anchor="start" >Average (AUPR = 0.9519)</text>
</g>
<g font-family="'DejaVu Sans','Liberation Sans',sans-serif" fill="#161616">
<rect x="87.2" y="60.6" width="759.3" height="573.2" fill="none" stroke="#0c0c0c" stroke-width="2.3"/>
<text transform="translate(121.3 666.2) scale(1 1.012)" font-size="21.3" text-anchor="middle" >0.0</text>
<text transform="translate(72.6 616.9) scale(1 1.012)" font-size="21.3" text-anchor="end" >0.0</text>
<text transform="translate(259.4 666.2) scale(1 1.012)" font-size="21.3" text-anchor="middle" >0.2</text>
<text transform="translate(72.6 512.5) scale(1 1.012)" font-size="21.3" text-anchor="end" >0.2</text>
<text transform="translate(397.5 666.2) scale(1 1.012)" font-size="21.3" text-anchor="middle" >0.4</text>
<text transform="translate(72.6 408.2) scale(1 1.012)" font-size="21.3" text-anchor="end" >0.4</text>
<text transform="translate(535.7 666.2) scale(1 1.012)" font-size="21.3" text-anchor="middle" >0.6</text>
<text transform="translate(72.6 303.8) scale(1 1.012)" font-size="21.3" text-anchor="end" >0.6</text>
<text transform="translate(673.8 666.2) scale(1 1.012)" font-size="21.3" text-anchor="middle" >0.8</text>
<text transform="translate(72.6 199.5) scale(1 1.012)" font-size="21.3" text-anchor="end" >0.8</text>
<text transform="translate(811.9 666.2) scale(1 1.012)" font-size="21.3" text-anchor="middle" >1.0</text>
<text transform="translate(72.6 95.1) scale(1 1.012)" font-size="21.3" text-anchor="end" >1.0</text>
<path d="M121.3,633.8 v7.6 M87.2,608.3 h-7.6 M259.4,633.8 v7.6 M87.2,503.9 h-7.6 M397.5,633.8 v7.6 M87.2,399.6 h-7.6 M535.7,633.8 v7.6 M87.2,295.2 h-7.6 M673.8,633.8 v7.6 M87.2,190.9 h-7.6 M811.9,633.8 v7.6 M87.2,86.5 h-7.6" stroke="#0c0c0c" stroke-width="2.3" fill="none"/>
<text transform="translate(466.9 47.2) scale(1 1.012)" font-size="25.55" text-anchor="middle" >Receiver operating characteristic</text>
<text transform="translate(466.9 700.4) scale(1 1.012)" font-size="27.65" text-anchor="middle" >False Positive Rate</text>
<text transform="translate(24.3 347.3) rotate(-90) scale(1.012 1)" font-size="27.65" text-anchor="middle">True Positive Rate</text>
<rect x="1008.9" y="65.4" width="759.6" height="573.5" fill="none" stroke="#0c0c0c" stroke-width="2.3"/>
<text transform="translate(1042.9 670.4) scale(1 1.012)" font-size="21.3" text-anchor="middle" >0.0</text>
<text transform="translate(994.3 620.9) scale(1 1.012)" font-size="21.3" text-anchor="end" >0.0</text>
<text transform="translate(1181.0 670.4) scale(1 1.012)" font-size="21.3" text-anchor="middle" >0.2</text>
<text transform="translate(994.3 516.7) scale(1 1.012)" font-size="21.3" text-anchor="end" >0.2</text>
<text transform="translate(1319.0 670.4) scale(1 1.012)" font-size="21.3" text-anchor="middle" >0.4</text>
<text transform="translate(994.3 412.6) scale(1 1.012)" font-size="21.3" text-anchor="end" >0.4</text>
<text transform="translate(1457.1 670.4) scale(1 1.012)" font-size="21.3" text-anchor="middle" >0.6</text>
<text transform="translate(994.3 308.4) scale(1 1.012)" font-size="21.3" text-anchor="end" >0.6</text>
<text transform="translate(1595.1 670.4) scale(1 1.012)" font-size="21.3" text-anchor="middle" >0.8</text>
<text transform="translate(994.3 204.3) scale(1 1.012)" font-size="21.3" text-anchor="end" >0.8</text>
<text transform="translate(1733.2 670.4) scale(1 1.012)" font-size="21.3" text-anchor="middle" >1.0</text>
<text transform="translate(994.3 100.1) scale(1 1.012)" font-size="21.3" text-anchor="end" >1.0</text>
<path d="M1042.9,638.9 v7.6 M1008.9,612.3 h-7.6 M1181.0,638.9 v7.6 M1008.9,508.1 h-7.6 M1319.0,638.9 v7.6 M1008.9,404.0 h-7.6 M1457.1,638.9 v7.6 M1008.9,299.8 h-7.6 M1595.1,638.9 v7.6 M1008.9,195.7 h-7.6 M1733.2,638.9 v7.6 M1008.9,91.5 h-7.6" stroke="#0c0c0c" stroke-width="2.3" fill="none"/>
<text transform="translate(1388.7 51.7) scale(1 1.012)" font-size="25.55" text-anchor="middle" >Precision recall</text>
<text transform="translate(1388.7 704.6) scale(1 1.012)" font-size="27.65" text-anchor="middle" >Recall</text>
<text transform="translate(966.8 342.4) rotate(-90) scale(1.012 1)" font-size="27.65" text-anchor="middle">Precision</text>
</g>
<g font-family="'Liberation Serif','Noto Serif CJK SC',serif" fill="#000" font-size="39.2">
<text transform="translate(35.4 28.1) scale(0.955 1)">A</text>
<text transform="translate(956.0 28.1) scale(0.88 1)">B</text>
</g>
</svg>
</body>
</html>
